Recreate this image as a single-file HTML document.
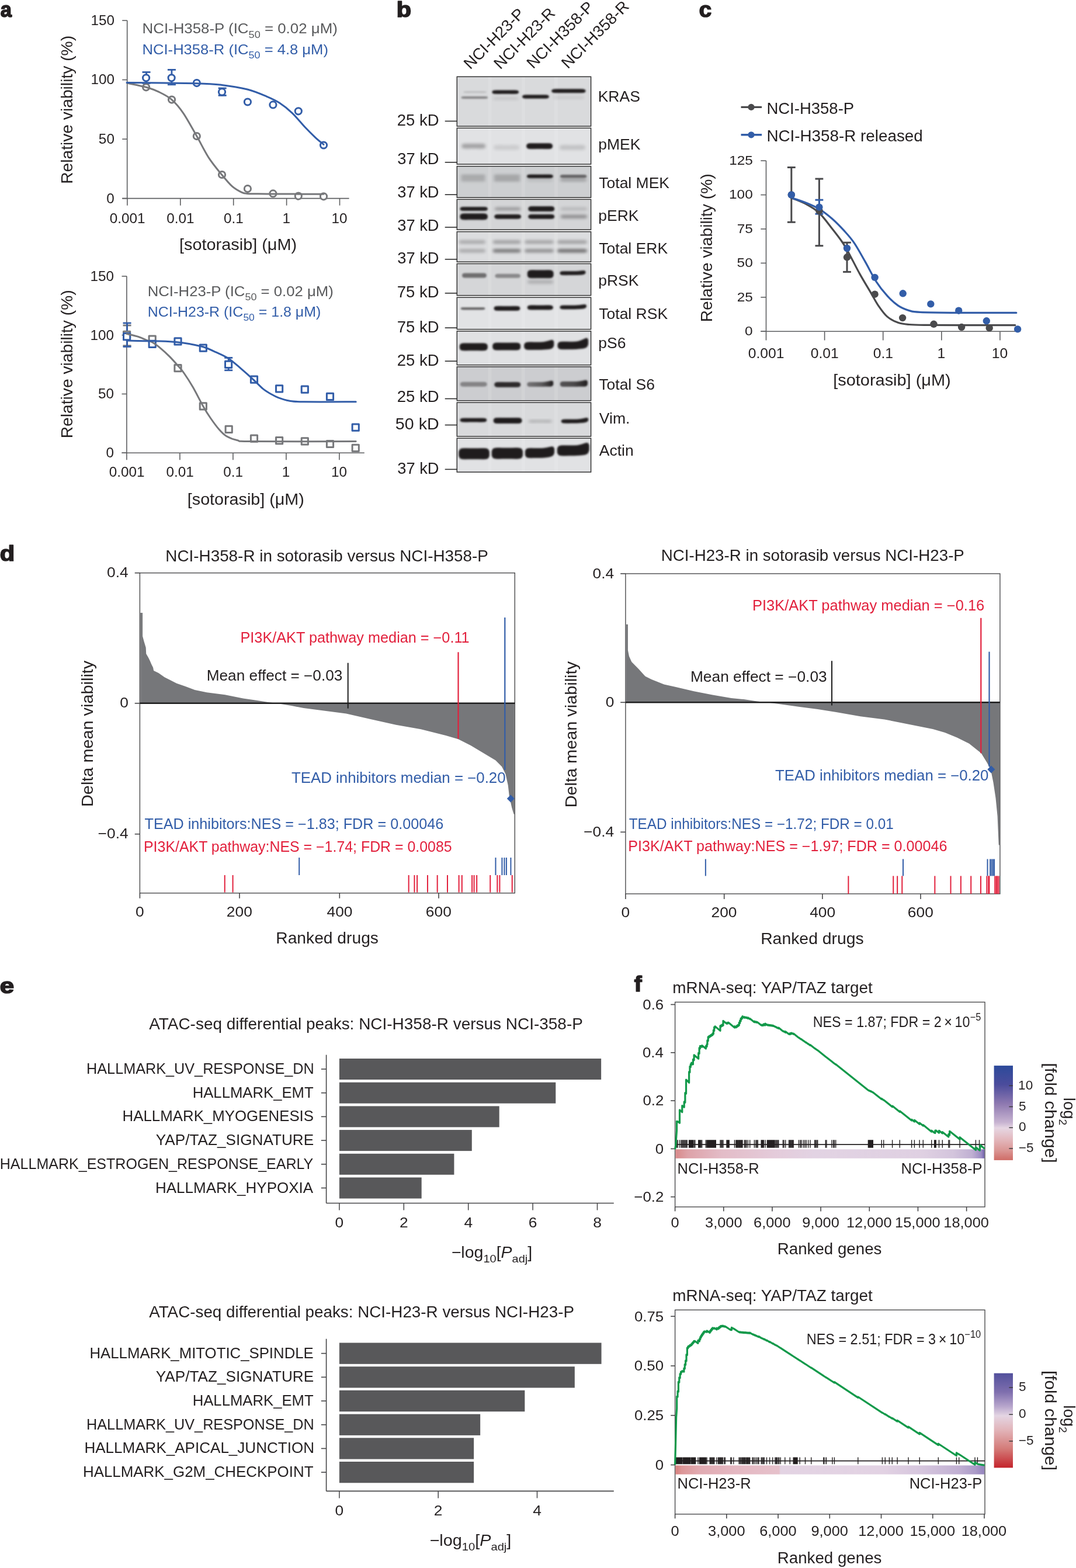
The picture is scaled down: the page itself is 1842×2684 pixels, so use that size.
<!DOCTYPE html>
<html><head><meta charset="utf-8"><title>Figure</title>
<style>html,body{margin:0;padding:0;background:#fff;}svg{display:block;}
text{font-family:'Liberation Sans',Arial,sans-serif;}</style></head>
<body><svg width="1842" height="2684" viewBox="0 0 1842 2684">
<rect x="0" y="0" width="1842" height="2684" fill="#ffffff"/>
<text transform="translate(1.60 29.20) scale(0.9309 1)" font-size="37" fill="#231f20" stroke="#231f20" stroke-width="1.7" stroke-linejoin="round"><tspan x="-0.93" font-weight="bold">a</tspan></text>
<text transform="translate(681.30 29.20) scale(1.1185 1)" font-size="37" fill="#231f20" stroke="#231f20" stroke-width="1.7" stroke-linejoin="round"><tspan x="-2.40" font-weight="bold">b</tspan></text>
<text transform="translate(1198.20 29.20) scale(1.0374 1)" font-size="37" fill="#231f20" stroke="#231f20" stroke-width="1.7" stroke-linejoin="round"><tspan x="-1.29" font-weight="bold">c</tspan></text>
<text transform="translate(1.30 959.80) scale(1.1239 1)" font-size="37" fill="#231f20" stroke="#231f20" stroke-width="1.7" stroke-linejoin="round"><tspan x="-1.48" font-weight="bold">d</tspan></text>
<text transform="translate(1.30 1699.80) scale(1.1859 1)" font-size="37" fill="#231f20" stroke="#231f20" stroke-width="1.7" stroke-linejoin="round"><tspan x="-1.29" font-weight="bold">e</tspan></text>
<text transform="translate(1086.30 1697.40) scale(1.0473 1)" font-size="37" fill="#231f20" stroke="#231f20" stroke-width="1.7" stroke-linejoin="round"><tspan x="-0.55" font-weight="bold">f</tspan></text>
<line x1="217.70" y1="35.10" x2="217.70" y2="339.60" stroke="#5d5e60" stroke-width="1.6"/>
<line x1="209.20" y1="339.60" x2="597.60" y2="339.60" stroke="#5d5e60" stroke-width="1.6"/>
<line x1="209.20" y1="35.06" x2="217.70" y2="35.06" stroke="#5d5e60" stroke-width="1.6"/>
<line x1="209.20" y1="136.57" x2="217.70" y2="136.57" stroke="#5d5e60" stroke-width="1.6"/>
<line x1="209.20" y1="238.09" x2="217.70" y2="238.09" stroke="#5d5e60" stroke-width="1.6"/>
<line x1="209.20" y1="339.60" x2="217.70" y2="339.60" stroke="#5d5e60" stroke-width="1.6"/>
<line x1="217.90" y1="339.60" x2="217.90" y2="351.70" stroke="#5d5e60" stroke-width="1.6"/>
<text transform="translate(188.49 382.30) scale(1.0300 1)" font-size="23.6" fill="#231f20"><tspan x="-0.83">0.001</tspan></text>
<line x1="308.80" y1="339.60" x2="308.80" y2="351.70" stroke="#5d5e60" stroke-width="1.6"/>
<text transform="translate(286.13 382.30) scale(1.0300 1)" font-size="23.6" fill="#231f20"><tspan x="-0.83">0.01</tspan></text>
<line x1="399.70" y1="339.60" x2="399.70" y2="351.70" stroke="#5d5e60" stroke-width="1.6"/>
<text transform="translate(383.78 382.30) scale(1.0300 1)" font-size="23.6" fill="#231f20"><tspan x="-0.83">0.1</tspan></text>
<line x1="490.60" y1="339.60" x2="490.60" y2="351.70" stroke="#5d5e60" stroke-width="1.6"/>
<text transform="translate(485.31 382.30) scale(1.0300 1)" font-size="23.6" fill="#231f20"><tspan x="-1.77">1</tspan></text>
<line x1="581.50" y1="339.60" x2="581.50" y2="351.70" stroke="#5d5e60" stroke-width="1.6"/>
<text transform="translate(569.35 382.30) scale(1.0300 1)" font-size="23.6" fill="#231f20"><tspan x="-1.77">10</tspan></text>
<text transform="translate(157.20 42.96) scale(1.0300 1)" font-size="23.6" fill="#231f20"><tspan x="-1.77">150</tspan></text>
<text transform="translate(157.20 144.47) scale(1.0300 1)" font-size="23.6" fill="#231f20"><tspan x="-1.77">100</tspan></text>
<text transform="translate(169.84 245.99) scale(1.0300 1)" font-size="23.6" fill="#231f20"><tspan x="-0.94">50</tspan></text>
<text transform="translate(183.21 347.50) scale(1.0300 1)" font-size="23.6" fill="#231f20"><tspan x="-0.83">0</tspan></text>
<text transform="translate(309.00 428.00) scale(1.0510 1)" font-size="27.5" fill="#231f20"><tspan x="-1.93">[sotorasib] (μM)</tspan></text>
<text transform="rotate(-90 124.00 312.60) translate(124.00 312.60) scale(0.9965 1)" font-size="28.3" fill="#231f20"><tspan x="-2.26">Relative viability (%)</tspan></text>
<line x1="250.54" y1="123.50" x2="250.54" y2="142.50" stroke="#325da8" stroke-width="2.8"/>
<line x1="243.54" y1="123.50" x2="257.54" y2="123.50" stroke="#325da8" stroke-width="2.8"/>
<line x1="243.54" y1="142.50" x2="257.54" y2="142.50" stroke="#325da8" stroke-width="2.8"/>
<line x1="293.91" y1="119.40" x2="293.91" y2="144.80" stroke="#325da8" stroke-width="2.8"/>
<line x1="286.91" y1="119.40" x2="300.91" y2="119.40" stroke="#325da8" stroke-width="2.8"/>
<line x1="286.91" y1="144.80" x2="300.91" y2="144.80" stroke="#325da8" stroke-width="2.8"/>
<line x1="380.66" y1="151.00" x2="380.66" y2="163.40" stroke="#325da8" stroke-width="2.8"/>
<line x1="373.66" y1="151.00" x2="387.66" y2="151.00" stroke="#325da8" stroke-width="2.8"/>
<line x1="373.66" y1="163.40" x2="387.66" y2="163.40" stroke="#325da8" stroke-width="2.8"/>
<circle cx="250.10" cy="149.30" r="5.6" fill="#fff" stroke="#77787b" stroke-width="3.0"/>
<circle cx="294.00" cy="170.60" r="5.6" fill="#fff" stroke="#77787b" stroke-width="3.0"/>
<circle cx="336.80" cy="233.10" r="5.6" fill="#fff" stroke="#77787b" stroke-width="3.0"/>
<circle cx="380.00" cy="299.00" r="5.6" fill="#fff" stroke="#77787b" stroke-width="3.0"/>
<circle cx="423.90" cy="323.10" r="5.6" fill="#fff" stroke="#77787b" stroke-width="3.0"/>
<circle cx="467.40" cy="331.40" r="5.6" fill="#fff" stroke="#77787b" stroke-width="3.0"/>
<circle cx="510.80" cy="335.60" r="5.6" fill="#fff" stroke="#77787b" stroke-width="3.0"/>
<circle cx="554.00" cy="336.30" r="5.6" fill="#fff" stroke="#77787b" stroke-width="3.0"/>
<circle cx="250.10" cy="133.30" r="5.6" fill="#fff" stroke="#325da8" stroke-width="3.0"/>
<circle cx="293.60" cy="133.30" r="5.6" fill="#fff" stroke="#325da8" stroke-width="3.0"/>
<circle cx="336.80" cy="142.10" r="5.6" fill="#fff" stroke="#325da8" stroke-width="3.0"/>
<circle cx="380.00" cy="157.40" r="5.6" fill="#fff" stroke="#325da8" stroke-width="3.0"/>
<circle cx="423.90" cy="174.50" r="5.6" fill="#fff" stroke="#325da8" stroke-width="3.0"/>
<circle cx="467.40" cy="179.40" r="5.6" fill="#fff" stroke="#325da8" stroke-width="3.0"/>
<circle cx="510.80" cy="190.30" r="5.6" fill="#fff" stroke="#325da8" stroke-width="3.0"/>
<circle cx="554.00" cy="248.50" r="5.6" fill="#fff" stroke="#325da8" stroke-width="3.0"/>
<path d="M217.20,142.10 C222.68,143.30 240.95,146.75 250.10,149.30 C259.25,151.85 264.78,153.85 272.10,157.40 C279.42,160.95 287.07,164.57 294.00,170.60 C300.93,176.63 306.57,183.18 313.70,193.60 C320.83,204.02 329.48,220.30 336.80,233.10 C344.12,245.90 350.47,259.42 357.60,270.40 C364.73,281.38 373.02,290.95 379.60,299.00 C386.18,307.05 391.62,313.77 397.10,318.70 C402.58,323.63 408.10,326.48 412.50,328.60 C416.90,330.72 416.18,330.85 423.50,331.40 C430.82,331.95 434.65,331.75 456.40,331.90 C478.15,332.05 537.73,332.23 554.00,332.30" stroke="#77787b" stroke-width="3.0" fill="none" stroke-linecap="round"/>
<path d="M217.20,141.40 C236.95,141.62 308.63,142.03 335.70,142.70 C362.77,143.37 364.97,143.68 379.60,145.40 C394.23,147.12 410.70,149.72 423.50,153.00 C436.30,156.28 447.27,161.25 456.40,165.10 C465.53,168.95 470.98,171.35 478.30,176.10 C485.62,180.85 492.98,186.65 500.30,193.60 C507.62,200.55 515.62,210.85 522.20,217.80 C528.78,224.75 534.50,230.37 539.80,235.30 C545.10,240.23 551.63,245.38 554.00,247.40" stroke="#325da8" stroke-width="3.0" fill="none" stroke-linecap="round"/>
<text transform="translate(245.60 57.20) scale(1.0473 1)" font-size="24.7" fill="#58595b"><tspan x="-1.98">NCI-H358-P (IC</tspan><tspan x="171.88" dy="7.41" font-size="17.29">50</tspan><tspan x="191.12" dy="-7.41"> = 0.02 μM)</tspan></text>
<text transform="translate(245.60 92.50) scale(1.0364 1)" font-size="24.7" fill="#325da8"><tspan x="-1.98">NCI-H358-R (IC</tspan><tspan x="173.69" dy="7.41" font-size="17.29">50</tspan><tspan x="192.92" dy="-7.41"> = 4.8 μM)</tspan></text>
<line x1="216.90" y1="472.80" x2="216.90" y2="775.20" stroke="#5d5e60" stroke-width="1.6"/>
<line x1="208.50" y1="775.20" x2="623.80" y2="775.20" stroke="#5d5e60" stroke-width="1.6"/>
<line x1="208.50" y1="472.80" x2="216.90" y2="472.80" stroke="#5d5e60" stroke-width="1.6"/>
<line x1="208.50" y1="573.60" x2="216.90" y2="573.60" stroke="#5d5e60" stroke-width="1.6"/>
<line x1="208.50" y1="674.40" x2="216.90" y2="674.40" stroke="#5d5e60" stroke-width="1.6"/>
<line x1="208.50" y1="775.20" x2="216.90" y2="775.20" stroke="#5d5e60" stroke-width="1.6"/>
<line x1="216.90" y1="775.20" x2="216.90" y2="787.30" stroke="#5d5e60" stroke-width="1.6"/>
<text transform="translate(187.49 816.20) scale(1.0300 1)" font-size="23.6" fill="#231f20"><tspan x="-0.83">0.001</tspan></text>
<line x1="307.90" y1="775.20" x2="307.90" y2="787.30" stroke="#5d5e60" stroke-width="1.6"/>
<text transform="translate(285.23 816.20) scale(1.0300 1)" font-size="23.6" fill="#231f20"><tspan x="-0.83">0.01</tspan></text>
<line x1="398.90" y1="775.20" x2="398.90" y2="787.30" stroke="#5d5e60" stroke-width="1.6"/>
<text transform="translate(382.98 816.20) scale(1.0300 1)" font-size="23.6" fill="#231f20"><tspan x="-0.83">0.1</tspan></text>
<line x1="489.90" y1="775.20" x2="489.90" y2="787.30" stroke="#5d5e60" stroke-width="1.6"/>
<text transform="translate(484.61 816.20) scale(1.0300 1)" font-size="23.6" fill="#231f20"><tspan x="-1.77">1</tspan></text>
<line x1="580.90" y1="775.20" x2="580.90" y2="787.30" stroke="#5d5e60" stroke-width="1.6"/>
<text transform="translate(568.75 816.20) scale(1.0300 1)" font-size="23.6" fill="#231f20"><tspan x="-1.77">10</tspan></text>
<text transform="translate(156.40 480.70) scale(1.0300 1)" font-size="23.6" fill="#231f20"><tspan x="-1.77">150</tspan></text>
<text transform="translate(156.40 581.50) scale(1.0300 1)" font-size="23.6" fill="#231f20"><tspan x="-1.77">100</tspan></text>
<text transform="translate(169.04 682.30) scale(1.0300 1)" font-size="23.6" fill="#231f20"><tspan x="-0.94">50</tspan></text>
<text transform="translate(182.41 783.10) scale(1.0300 1)" font-size="23.6" fill="#231f20"><tspan x="-0.83">0</tspan></text>
<text transform="translate(322.80 864.00) scale(1.0447 1)" font-size="27.5" fill="#231f20"><tspan x="-1.93">[sotorasib] (μM)</tspan></text>
<text transform="rotate(-90 124.00 748.00) translate(124.00 748.00) scale(0.9965 1)" font-size="28.3" fill="#231f20"><tspan x="-2.26">Relative viability (%)</tspan></text>
<line x1="217.53" y1="557.00" x2="217.53" y2="591.70" stroke="#77787b" stroke-width="2.8"/>
<line x1="210.53" y1="557.00" x2="224.53" y2="557.00" stroke="#77787b" stroke-width="2.8"/>
<line x1="210.53" y1="591.70" x2="224.53" y2="591.70" stroke="#77787b" stroke-width="2.8"/>
<line x1="217.53" y1="553.00" x2="217.53" y2="593.40" stroke="#325da8" stroke-width="2.8"/>
<line x1="210.53" y1="553.00" x2="224.53" y2="553.00" stroke="#325da8" stroke-width="2.8"/>
<line x1="210.53" y1="593.40" x2="224.53" y2="593.40" stroke="#325da8" stroke-width="2.8"/>
<line x1="391.20" y1="612.40" x2="391.20" y2="633.80" stroke="#325da8" stroke-width="2.8"/>
<line x1="384.20" y1="612.40" x2="398.20" y2="612.40" stroke="#325da8" stroke-width="2.8"/>
<line x1="384.20" y1="633.80" x2="398.20" y2="633.80" stroke="#325da8" stroke-width="2.8"/>
<rect x="211.50" y="567.30" width="11.2" height="11.2" fill="#fff" stroke="#77787b" stroke-width="3.0" stroke-linejoin="round"/>
<rect x="255.10" y="575.10" width="11.2" height="11.2" fill="#fff" stroke="#77787b" stroke-width="3.0" stroke-linejoin="round"/>
<rect x="298.90" y="624.60" width="11.2" height="11.2" fill="#fff" stroke="#77787b" stroke-width="3.0" stroke-linejoin="round"/>
<rect x="342.20" y="689.80" width="11.2" height="11.2" fill="#fff" stroke="#77787b" stroke-width="3.0" stroke-linejoin="round"/>
<rect x="386.10" y="729.30" width="11.2" height="11.2" fill="#fff" stroke="#77787b" stroke-width="3.0" stroke-linejoin="round"/>
<rect x="429.40" y="745.00" width="11.2" height="11.2" fill="#fff" stroke="#77787b" stroke-width="3.0" stroke-linejoin="round"/>
<rect x="472.50" y="748.50" width="11.2" height="11.2" fill="#fff" stroke="#77787b" stroke-width="3.0" stroke-linejoin="round"/>
<rect x="516.20" y="749.80" width="11.2" height="11.2" fill="#fff" stroke="#77787b" stroke-width="3.0" stroke-linejoin="round"/>
<rect x="559.40" y="754.40" width="11.2" height="11.2" fill="#fff" stroke="#77787b" stroke-width="3.0" stroke-linejoin="round"/>
<rect x="603.10" y="761.30" width="11.2" height="11.2" fill="#fff" stroke="#77787b" stroke-width="3.0" stroke-linejoin="round"/>
<rect x="211.50" y="570.60" width="11.2" height="11.2" fill="#fff" stroke="#325da8" stroke-width="3.0" stroke-linejoin="round"/>
<rect x="255.10" y="583.20" width="11.2" height="11.2" fill="#fff" stroke="#325da8" stroke-width="3.0" stroke-linejoin="round"/>
<rect x="298.90" y="578.80" width="11.2" height="11.2" fill="#fff" stroke="#325da8" stroke-width="3.0" stroke-linejoin="round"/>
<rect x="342.20" y="590.10" width="11.2" height="11.2" fill="#fff" stroke="#325da8" stroke-width="3.0" stroke-linejoin="round"/>
<rect x="385.50" y="618.30" width="11.2" height="11.2" fill="#fff" stroke="#325da8" stroke-width="3.0" stroke-linejoin="round"/>
<rect x="429.40" y="644.00" width="11.2" height="11.2" fill="#fff" stroke="#325da8" stroke-width="3.0" stroke-linejoin="round"/>
<rect x="472.50" y="659.80" width="11.2" height="11.2" fill="#fff" stroke="#325da8" stroke-width="3.0" stroke-linejoin="round"/>
<rect x="516.20" y="661.10" width="11.2" height="11.2" fill="#fff" stroke="#325da8" stroke-width="3.0" stroke-linejoin="round"/>
<rect x="559.40" y="673.20" width="11.2" height="11.2" fill="#fff" stroke="#325da8" stroke-width="3.0" stroke-linejoin="round"/>
<rect x="603.10" y="726.10" width="11.2" height="11.2" fill="#fff" stroke="#325da8" stroke-width="3.0" stroke-linejoin="round"/>
<path d="M217.10,571.60 C220.53,572.45 232.22,574.98 237.70,576.70 C243.18,578.42 246.07,580.30 250.00,581.90 C253.93,583.50 257.12,583.90 261.30,586.30 C265.48,588.70 270.30,592.33 275.10,596.30 C279.90,600.27 285.30,605.28 290.10,610.10 C294.90,614.92 299.72,620.38 303.90,625.20 C308.08,630.02 310.80,632.73 315.20,639.00 C319.60,645.27 324.87,653.40 330.30,662.80 C335.73,672.20 342.80,686.62 347.80,695.40 C352.80,704.18 355.70,708.82 360.30,715.50 C364.90,722.18 370.80,730.28 375.40,735.50 C380.00,740.72 382.68,743.77 387.90,746.80 C393.12,749.83 399.38,752.23 406.70,753.70 C414.02,755.17 398.05,755.28 431.80,755.60 C465.55,755.92 579.63,755.60 609.20,755.60" stroke="#77787b" stroke-width="3.0" fill="none" stroke-linecap="round"/>
<path d="M217.10,583.10 C222.58,583.22 240.33,583.65 250.00,583.80 C259.67,583.95 266.12,583.68 275.10,584.00 C284.08,584.32 295.55,584.90 303.90,585.70 C312.25,586.50 317.88,587.45 325.20,588.80 C332.52,590.15 340.48,591.50 347.80,593.80 C355.12,596.10 361.78,599.25 369.10,602.60 C376.42,605.95 384.38,609.10 391.70,613.90 C399.02,618.70 405.90,625.33 413.00,631.40 C420.10,637.47 428.13,644.65 434.30,650.30 C440.47,655.95 445.05,661.27 450.00,665.30 C454.95,669.33 459.53,671.92 464.00,674.50 C468.47,677.08 471.67,678.88 476.80,680.80 C481.93,682.72 487.52,684.83 494.80,686.00 C502.08,687.17 501.43,687.50 520.50,687.80 C539.57,688.10 594.42,687.80 609.20,687.80" stroke="#325da8" stroke-width="3.0" fill="none" stroke-linecap="round"/>
<text transform="translate(254.80 507.00) scale(1.0410 1)" font-size="24.7" fill="#58595b"><tspan x="-1.98">NCI-H23-P (IC</tspan><tspan x="158.15" dy="7.41" font-size="17.29">50</tspan><tspan x="177.38" dy="-7.41"> = 0.02 μM)</tspan></text>
<text transform="translate(254.80 541.70) scale(1.0104 1)" font-size="24.7" fill="#325da8"><tspan x="-1.98">NCI-H23-R (IC</tspan><tspan x="159.95" dy="7.41" font-size="17.29">50</tspan><tspan x="179.19" dy="-7.41"> = 1.8 μM)</tspan></text>
<defs><filter id="bl" x="-20%" y="-100%" width="140%" height="300%" color-interpolation-filters="sRGB"><feGaussianBlur stdDeviation="1.6"/></filter><filter id="bl2" x="-20%" y="-100%" width="140%" height="300%" color-interpolation-filters="sRGB"><feGaussianBlur stdDeviation="2.4"/></filter></defs>
<rect x="782.30" y="131.30" width="229.30" height="84.80" fill="#d9dadc"/>
<rect x="835.50" y="131.30" width="6.00" height="84.80" fill="#ffffff" opacity="0.12"/>
<rect x="892.80" y="131.30" width="6.00" height="84.80" fill="#ffffff" opacity="0.12"/>
<rect x="949.00" y="131.30" width="6.00" height="84.80" fill="#ffffff" opacity="0.12"/>
<rect x="782.30" y="219.20" width="229.30" height="61.90" fill="#e1e2e4"/>
<rect x="835.50" y="219.20" width="6.00" height="61.90" fill="#ffffff" opacity="0.12"/>
<rect x="892.80" y="219.20" width="6.00" height="61.90" fill="#ffffff" opacity="0.12"/>
<rect x="949.00" y="219.20" width="6.00" height="61.90" fill="#ffffff" opacity="0.12"/>
<rect x="782.30" y="284.60" width="229.30" height="53.60" fill="#cdcfd1"/>
<rect x="835.50" y="284.60" width="6.00" height="53.60" fill="#ffffff" opacity="0.12"/>
<rect x="892.80" y="284.60" width="6.00" height="53.60" fill="#ffffff" opacity="0.12"/>
<rect x="949.00" y="284.60" width="6.00" height="53.60" fill="#ffffff" opacity="0.12"/>
<rect x="782.30" y="341.30" width="229.30" height="51.90" fill="#d4d5d7"/>
<rect x="835.50" y="341.30" width="6.00" height="51.90" fill="#ffffff" opacity="0.12"/>
<rect x="892.80" y="341.30" width="6.00" height="51.90" fill="#ffffff" opacity="0.12"/>
<rect x="949.00" y="341.30" width="6.00" height="51.90" fill="#ffffff" opacity="0.12"/>
<rect x="782.30" y="396.60" width="229.30" height="51.70" fill="#dcdddf"/>
<rect x="835.50" y="396.60" width="6.00" height="51.70" fill="#ffffff" opacity="0.12"/>
<rect x="892.80" y="396.60" width="6.00" height="51.70" fill="#ffffff" opacity="0.12"/>
<rect x="949.00" y="396.60" width="6.00" height="51.70" fill="#ffffff" opacity="0.12"/>
<rect x="782.30" y="451.40" width="229.30" height="54.30" fill="#d5d6d8"/>
<rect x="835.50" y="451.40" width="6.00" height="54.30" fill="#ffffff" opacity="0.12"/>
<rect x="892.80" y="451.40" width="6.00" height="54.30" fill="#ffffff" opacity="0.12"/>
<rect x="949.00" y="451.40" width="6.00" height="54.30" fill="#ffffff" opacity="0.12"/>
<rect x="782.30" y="509.10" width="229.30" height="54.60" fill="#e2e3e5"/>
<rect x="835.50" y="509.10" width="6.00" height="54.60" fill="#ffffff" opacity="0.12"/>
<rect x="892.80" y="509.10" width="6.00" height="54.60" fill="#ffffff" opacity="0.12"/>
<rect x="949.00" y="509.10" width="6.00" height="54.60" fill="#ffffff" opacity="0.12"/>
<rect x="782.30" y="566.80" width="229.30" height="58.00" fill="#e0e1e3"/>
<rect x="835.50" y="566.80" width="6.00" height="58.00" fill="#ffffff" opacity="0.12"/>
<rect x="892.80" y="566.80" width="6.00" height="58.00" fill="#ffffff" opacity="0.12"/>
<rect x="949.00" y="566.80" width="6.00" height="58.00" fill="#ffffff" opacity="0.12"/>
<rect x="782.30" y="627.80" width="229.30" height="58.00" fill="#cccdd0"/>
<rect x="835.50" y="627.80" width="6.00" height="58.00" fill="#ffffff" opacity="0.12"/>
<rect x="892.80" y="627.80" width="6.00" height="58.00" fill="#ffffff" opacity="0.12"/>
<rect x="949.00" y="627.80" width="6.00" height="58.00" fill="#ffffff" opacity="0.12"/>
<rect x="782.30" y="689.00" width="229.30" height="58.00" fill="#d9dadc"/>
<rect x="835.50" y="689.00" width="6.00" height="58.00" fill="#ffffff" opacity="0.12"/>
<rect x="892.80" y="689.00" width="6.00" height="58.00" fill="#ffffff" opacity="0.12"/>
<rect x="949.00" y="689.00" width="6.00" height="58.00" fill="#ffffff" opacity="0.12"/>
<rect x="782.30" y="750.10" width="229.30" height="58.00" fill="#e1e2e4"/>
<rect x="835.50" y="750.10" width="6.00" height="58.00" fill="#ffffff" opacity="0.12"/>
<rect x="892.80" y="750.10" width="6.00" height="58.00" fill="#ffffff" opacity="0.12"/>
<rect x="949.00" y="750.10" width="6.00" height="58.00" fill="#ffffff" opacity="0.12"/>
<defs><linearGradient id="ts6a" x1="0" x2="1" y1="0" y2="0"><stop offset="0" stop-color="#1f1c1d" stop-opacity="0.5"/><stop offset="0.55" stop-color="#1f1c1d" stop-opacity="0.65"/><stop offset="1" stop-color="#1f1c1d" stop-opacity="1"/></linearGradient><linearGradient id="ts6b" x1="0" x2="1" y1="0" y2="0"><stop offset="0" stop-color="#1f1c1d" stop-opacity="0.7"/><stop offset="0.5" stop-color="#1f1c1d" stop-opacity="0.75"/><stop offset="1" stop-color="#1f1c1d" stop-opacity="1"/></linearGradient></defs>
<path d="M793.50,156.96 L794.81,156.36 L796.11,156.20 L797.42,156.13 L798.73,156.09 L800.03,156.07 L801.34,156.07 L802.65,156.07 L803.95,156.08 L805.26,156.08 L806.57,156.09 L807.87,156.09 L809.18,156.10 L810.49,156.10 L811.79,156.10 L813.10,156.10 L814.41,156.10 L815.71,156.10 L817.02,156.10 L818.33,156.09 L819.63,156.09 L820.94,156.08 L822.25,156.08 L823.55,156.07 L824.86,156.07 L826.17,156.07 L827.47,156.09 L828.78,156.13 L830.09,156.20 L831.39,156.36 L832.70,156.96 L832.70,158.24 L831.39,158.84 L830.09,159.00 L828.78,159.07 L827.47,159.11 L826.17,159.13 L824.86,159.13 L823.55,159.13 L822.25,159.12 L820.94,159.12 L819.63,159.11 L818.33,159.11 L817.02,159.10 L815.71,159.10 L814.41,159.10 L813.10,159.10 L811.79,159.10 L810.49,159.10 L809.18,159.10 L807.87,159.11 L806.57,159.11 L805.26,159.12 L803.95,159.12 L802.65,159.13 L801.34,159.13 L800.03,159.13 L798.73,159.11 L797.42,159.07 L796.11,159.00 L794.81,158.84 L793.50,158.24 Z" fill="#1f1c1d" opacity="0.14" filter="url(#bl)" stroke="#1f1c1d" stroke-width="0" stroke-linejoin="round"/>
<path d="M789.60,166.15 L791.11,165.35 L792.63,165.14 L794.14,165.04 L795.65,164.99 L797.17,164.96 L798.68,164.96 L800.19,164.96 L801.71,164.97 L803.22,164.98 L804.73,164.99 L806.25,164.99 L807.76,165.00 L809.27,165.00 L810.79,165.00 L812.30,165.00 L813.81,165.00 L815.33,165.00 L816.84,165.00 L818.35,164.99 L819.87,164.99 L821.38,164.98 L822.89,164.97 L824.41,164.96 L825.92,164.96 L827.43,164.96 L828.95,164.99 L830.46,165.04 L831.97,165.14 L833.49,165.35 L835.00,166.15 L835.00,167.85 L833.49,168.65 L831.97,168.86 L830.46,168.96 L828.95,169.01 L827.43,169.04 L825.92,169.04 L824.41,169.04 L822.89,169.03 L821.38,169.02 L819.87,169.01 L818.35,169.01 L816.84,169.00 L815.33,169.00 L813.81,169.00 L812.30,169.00 L810.79,169.00 L809.27,169.00 L807.76,169.00 L806.25,169.01 L804.73,169.01 L803.22,169.02 L801.71,169.03 L800.19,169.04 L798.68,169.04 L797.17,169.04 L795.65,169.01 L794.14,168.96 L792.63,168.86 L791.11,168.65 L789.60,167.85 Z" fill="#1f1c1d" opacity="0.45" filter="url(#bl)" stroke="#1f1c1d" stroke-width="0" stroke-linejoin="round"/>
<path d="M842.90,156.43 L844.39,155.33 L845.88,155.04 L847.37,154.90 L848.86,154.83 L850.35,154.80 L851.84,154.79 L853.33,154.80 L854.82,154.81 L856.31,154.82 L857.80,154.83 L859.29,154.84 L860.78,154.85 L862.27,154.85 L863.76,154.85 L865.25,154.85 L866.74,154.85 L868.23,154.85 L869.72,154.85 L871.21,154.84 L872.70,154.83 L874.19,154.82 L875.68,154.81 L877.17,154.80 L878.66,154.79 L880.15,154.80 L881.64,154.83 L883.13,154.90 L884.62,155.04 L886.11,155.33 L887.60,156.43 L887.60,158.77 L886.11,159.87 L884.62,160.16 L883.13,160.30 L881.64,160.37 L880.15,160.40 L878.66,160.41 L877.17,160.40 L875.68,160.39 L874.19,160.38 L872.70,160.37 L871.21,160.36 L869.72,160.35 L868.23,160.35 L866.74,160.35 L865.25,160.35 L863.76,160.35 L862.27,160.35 L860.78,160.35 L859.29,160.36 L857.80,160.37 L856.31,160.38 L854.82,160.39 L853.33,160.40 L851.84,160.41 L850.35,160.40 L848.86,160.37 L847.37,160.30 L845.88,160.16 L844.39,159.87 L842.90,158.77 Z" fill="#1f1c1d" opacity="1.00" filter="url(#bl)" stroke="#1f1c1d" stroke-width="0.8" stroke-linejoin="round"/>
<path d="M844.00,167.75 L845.47,166.95 L846.93,166.74 L848.40,166.64 L849.87,166.59 L851.33,166.56 L852.80,166.56 L854.27,166.56 L855.73,166.57 L857.20,166.58 L858.67,166.59 L860.13,166.59 L861.60,166.60 L863.07,166.60 L864.53,166.60 L866.00,166.60 L867.47,166.60 L868.93,166.60 L870.40,166.60 L871.87,166.59 L873.33,166.59 L874.80,166.58 L876.27,166.57 L877.73,166.56 L879.20,166.56 L880.67,166.56 L882.13,166.59 L883.60,166.64 L885.07,166.74 L886.53,166.95 L888.00,167.75 L888.00,169.45 L886.53,170.25 L885.07,170.46 L883.60,170.56 L882.13,170.61 L880.67,170.64 L879.20,170.64 L877.73,170.64 L876.27,170.63 L874.80,170.62 L873.33,170.61 L871.87,170.61 L870.40,170.60 L868.93,170.60 L867.47,170.60 L866.00,170.60 L864.53,170.60 L863.07,170.60 L861.60,170.60 L860.13,170.61 L858.67,170.61 L857.20,170.62 L855.73,170.63 L854.27,170.64 L852.80,170.64 L851.33,170.64 L849.87,170.61 L848.40,170.56 L846.93,170.46 L845.47,170.25 L844.00,169.45 Z" fill="#1f1c1d" opacity="0.13" filter="url(#bl2)" stroke="#1f1c1d" stroke-width="0" stroke-linejoin="round"/>
<path d="M894.60,164.33 L896.09,163.23 L897.58,162.94 L899.07,162.80 L900.56,162.73 L902.05,162.70 L903.54,162.69 L905.03,162.70 L906.52,162.71 L908.01,162.72 L909.50,162.73 L910.99,162.74 L912.48,162.75 L913.97,162.75 L915.46,162.75 L916.95,162.75 L918.44,162.75 L919.93,162.75 L921.42,162.75 L922.91,162.74 L924.40,162.73 L925.89,162.72 L927.38,162.71 L928.87,162.70 L930.36,162.69 L931.85,162.70 L933.34,162.73 L934.83,162.80 L936.32,162.94 L937.81,163.23 L939.30,164.33 L939.30,166.67 L937.81,167.77 L936.32,168.06 L934.83,168.20 L933.34,168.27 L931.85,168.30 L930.36,168.31 L928.87,168.30 L927.38,168.29 L925.89,168.28 L924.40,168.27 L922.91,168.26 L921.42,168.25 L919.93,168.25 L918.44,168.25 L916.95,168.25 L915.46,168.25 L913.97,168.25 L912.48,168.25 L910.99,168.26 L909.50,168.27 L908.01,168.28 L906.52,168.29 L905.03,168.30 L903.54,168.31 L902.05,168.30 L900.56,168.27 L899.07,168.20 L897.58,168.06 L896.09,167.77 L894.60,166.67 Z" fill="#1f1c1d" opacity="1.00" filter="url(#bl)" stroke="#1f1c1d" stroke-width="0.8" stroke-linejoin="round"/>
<path d="M944.80,154.42 L946.71,153.22 L948.61,152.91 L950.52,152.75 L952.43,152.68 L954.33,152.65 L956.24,152.64 L958.15,152.64 L960.05,152.66 L961.96,152.67 L963.87,152.68 L965.77,152.69 L967.68,152.70 L969.59,152.70 L971.49,152.70 L973.40,152.70 L975.31,152.70 L977.21,152.70 L979.12,152.70 L981.03,152.69 L982.93,152.68 L984.84,152.67 L986.75,152.66 L988.65,152.64 L990.56,152.64 L992.47,152.65 L994.37,152.68 L996.28,152.75 L998.19,152.91 L1000.09,153.22 L1002.00,154.42 L1002.00,156.98 L1000.09,158.18 L998.19,158.49 L996.28,158.65 L994.37,158.72 L992.47,158.75 L990.56,158.76 L988.65,158.76 L986.75,158.74 L984.84,158.73 L982.93,158.72 L981.03,158.71 L979.12,158.70 L977.21,158.70 L975.31,158.70 L973.40,158.70 L971.49,158.70 L969.59,158.70 L967.68,158.70 L965.77,158.71 L963.87,158.72 L961.96,158.73 L960.05,158.74 L958.15,158.76 L956.24,158.76 L954.33,158.75 L952.43,158.72 L950.52,158.65 L948.61,158.49 L946.71,158.18 L944.80,156.98 Z" fill="#1f1c1d" opacity="1.00" filter="url(#bl)" stroke="#1f1c1d" stroke-width="0.8" stroke-linejoin="round"/>
<path d="M947.00,166.15 L948.77,165.35 L950.53,165.14 L952.30,165.04 L954.07,164.99 L955.83,164.96 L957.60,164.96 L959.37,164.96 L961.13,164.97 L962.90,164.98 L964.67,164.99 L966.43,164.99 L968.20,165.00 L969.97,165.00 L971.73,165.00 L973.50,165.00 L975.27,165.00 L977.03,165.00 L978.80,165.00 L980.57,164.99 L982.33,164.99 L984.10,164.98 L985.87,164.97 L987.63,164.96 L989.40,164.96 L991.17,164.96 L992.93,164.99 L994.70,165.04 L996.47,165.14 L998.23,165.35 L1000.00,166.15 L1000.00,167.85 L998.23,168.65 L996.47,168.86 L994.70,168.96 L992.93,169.01 L991.17,169.04 L989.40,169.04 L987.63,169.04 L985.87,169.03 L984.10,169.02 L982.33,169.01 L980.57,169.01 L978.80,169.00 L977.03,169.00 L975.27,169.00 L973.50,169.00 L971.73,169.00 L969.97,169.00 L968.20,169.00 L966.43,169.01 L964.67,169.01 L962.90,169.02 L961.13,169.03 L959.37,169.04 L957.60,169.04 L955.83,169.04 L954.07,169.01 L952.30,168.96 L950.53,168.86 L948.77,168.65 L947.00,167.85 Z" fill="#1f1c1d" opacity="0.11" filter="url(#bl2)" stroke="#1f1c1d" stroke-width="0" stroke-linejoin="round"/>
<path d="M790.40,248.39 L791.76,246.79 L793.11,246.37 L794.47,246.17 L795.83,246.07 L797.18,246.03 L798.54,246.02 L799.90,246.03 L801.25,246.04 L802.61,246.06 L803.97,246.07 L805.32,246.09 L806.68,246.09 L808.04,246.10 L809.39,246.10 L810.75,246.10 L812.11,246.10 L813.46,246.10 L814.82,246.09 L816.18,246.09 L817.53,246.07 L818.89,246.06 L820.25,246.04 L821.60,246.03 L822.96,246.02 L824.32,246.03 L825.67,246.07 L827.03,246.17 L828.39,246.37 L829.74,246.79 L831.10,248.39 L831.10,251.81 L829.74,253.41 L828.39,253.83 L827.03,254.03 L825.67,254.13 L824.32,254.17 L822.96,254.18 L821.60,254.17 L820.25,254.16 L818.89,254.14 L817.53,254.13 L816.18,254.11 L814.82,254.11 L813.46,254.10 L812.11,254.10 L810.75,254.10 L809.39,254.10 L808.04,254.10 L806.68,254.11 L805.32,254.11 L803.97,254.13 L802.61,254.14 L801.25,254.16 L799.90,254.17 L798.54,254.18 L797.18,254.17 L795.83,254.13 L794.47,254.03 L793.11,253.83 L791.76,253.41 L790.40,251.81 Z" fill="#1f1c1d" opacity="0.32" filter="url(#bl2)" stroke="#1f1c1d" stroke-width="0" stroke-linejoin="round"/>
<path d="M845.20,250.69 L846.66,249.09 L848.13,248.67 L849.59,248.47 L851.05,248.37 L852.52,248.33 L853.98,248.32 L855.44,248.33 L856.91,248.34 L858.37,248.36 L859.83,248.37 L861.30,248.39 L862.76,248.39 L864.22,248.40 L865.69,248.40 L867.15,248.40 L868.61,248.40 L870.08,248.40 L871.54,248.39 L873.00,248.39 L874.47,248.37 L875.93,248.36 L877.39,248.34 L878.86,248.33 L880.32,248.32 L881.78,248.33 L883.25,248.37 L884.71,248.47 L886.17,248.67 L887.64,249.09 L889.10,250.69 L889.10,254.11 L887.64,255.71 L886.17,256.13 L884.71,256.33 L883.25,256.43 L881.78,256.47 L880.32,256.48 L878.86,256.47 L877.39,256.46 L875.93,256.44 L874.47,256.43 L873.00,256.41 L871.54,256.41 L870.08,256.40 L868.61,256.40 L867.15,256.40 L865.69,256.40 L864.22,256.40 L862.76,256.41 L861.30,256.41 L859.83,256.43 L858.37,256.44 L856.91,256.46 L855.44,256.47 L853.98,256.48 L852.52,256.47 L851.05,256.43 L849.59,256.33 L848.13,256.13 L846.66,255.71 L845.20,254.11 Z" fill="#1f1c1d" opacity="0.11" filter="url(#bl2)" stroke="#1f1c1d" stroke-width="0" stroke-linejoin="round"/>
<path d="M901.70,248.18 L903.16,246.38 L904.62,245.91 L906.08,245.68 L907.54,245.57 L909.00,245.52 L910.46,245.51 L911.92,245.52 L913.38,245.53 L914.84,245.55 L916.30,245.57 L917.76,245.58 L919.22,245.59 L920.68,245.60 L922.14,245.60 L923.60,245.60 L925.06,245.60 L926.52,245.60 L927.98,245.59 L929.44,245.58 L930.90,245.57 L932.36,245.55 L933.82,245.53 L935.28,245.52 L936.74,245.51 L938.20,245.52 L939.66,245.57 L941.12,245.68 L942.58,245.91 L944.04,246.38 L945.50,248.18 L945.50,252.02 L944.04,253.82 L942.58,254.29 L941.12,254.52 L939.66,254.63 L938.20,254.68 L936.74,254.69 L935.28,254.68 L933.82,254.67 L932.36,254.65 L930.90,254.63 L929.44,254.62 L927.98,254.61 L926.52,254.60 L925.06,254.60 L923.60,254.60 L922.14,254.60 L920.68,254.60 L919.22,254.61 L917.76,254.62 L916.30,254.63 L914.84,254.65 L913.38,254.67 L911.92,254.68 L910.46,254.69 L909.00,254.68 L907.54,254.63 L906.08,254.52 L904.62,254.29 L903.16,253.82 L901.70,252.02 Z" fill="#1f1c1d" opacity="1.00" filter="url(#bl)" stroke="#1f1c1d" stroke-width="0.8" stroke-linejoin="round"/>
<path d="M958.00,250.69 L959.47,249.09 L960.93,248.67 L962.40,248.47 L963.87,248.37 L965.33,248.33 L966.80,248.32 L968.27,248.33 L969.73,248.34 L971.20,248.36 L972.67,248.37 L974.13,248.39 L975.60,248.39 L977.07,248.40 L978.53,248.40 L980.00,248.40 L981.47,248.40 L982.93,248.40 L984.40,248.39 L985.87,248.39 L987.33,248.37 L988.80,248.36 L990.27,248.34 L991.73,248.33 L993.20,248.32 L994.67,248.33 L996.13,248.37 L997.60,248.47 L999.07,248.67 L1000.53,249.09 L1002.00,250.69 L1002.00,254.11 L1000.53,255.71 L999.07,256.13 L997.60,256.33 L996.13,256.43 L994.67,256.47 L993.20,256.48 L991.73,256.47 L990.27,256.46 L988.80,256.44 L987.33,256.43 L985.87,256.41 L984.40,256.41 L982.93,256.40 L981.47,256.40 L980.00,256.40 L978.53,256.40 L977.07,256.40 L975.60,256.41 L974.13,256.41 L972.67,256.43 L971.20,256.44 L969.73,256.46 L968.27,256.47 L966.80,256.48 L965.33,256.47 L963.87,256.43 L962.40,256.33 L960.93,256.13 L959.47,255.71 L958.00,254.11 Z" fill="#1f1c1d" opacity="0.16" filter="url(#bl2)" stroke="#1f1c1d" stroke-width="0" stroke-linejoin="round"/>
<path d="M788.80,300.63 L790.21,299.53 L791.62,299.24 L793.03,299.10 L794.44,299.03 L795.85,299.00 L797.26,298.99 L798.67,299.00 L800.08,299.01 L801.49,299.02 L802.90,299.03 L804.31,299.04 L805.72,299.05 L807.13,299.05 L808.54,299.05 L809.95,299.05 L811.36,299.05 L812.77,299.05 L814.18,299.05 L815.59,299.04 L817.00,299.03 L818.41,299.02 L819.82,299.01 L821.23,299.00 L822.64,298.99 L824.05,299.00 L825.46,299.03 L826.87,299.10 L828.28,299.24 L829.69,299.53 L831.10,300.63 L831.10,302.97 L829.69,304.07 L828.28,304.36 L826.87,304.50 L825.46,304.57 L824.05,304.60 L822.64,304.61 L821.23,304.60 L819.82,304.59 L818.41,304.58 L817.00,304.57 L815.59,304.56 L814.18,304.55 L812.77,304.55 L811.36,304.55 L809.95,304.55 L808.54,304.55 L807.13,304.55 L805.72,304.55 L804.31,304.56 L802.90,304.57 L801.49,304.58 L800.08,304.59 L798.67,304.60 L797.26,304.61 L795.85,304.60 L794.44,304.57 L793.03,304.50 L791.62,304.36 L790.21,304.07 L788.80,302.97 Z" fill="#1f1c1d" opacity="0.24" filter="url(#bl2)" stroke="#1f1c1d" stroke-width="0" stroke-linejoin="round"/>
<path d="M788.80,306.63 L790.21,305.53 L791.62,305.24 L793.03,305.10 L794.44,305.03 L795.85,305.00 L797.26,304.99 L798.67,305.00 L800.08,305.01 L801.49,305.02 L802.90,305.03 L804.31,305.04 L805.72,305.05 L807.13,305.05 L808.54,305.05 L809.95,305.05 L811.36,305.05 L812.77,305.05 L814.18,305.05 L815.59,305.04 L817.00,305.03 L818.41,305.02 L819.82,305.01 L821.23,305.00 L822.64,304.99 L824.05,305.00 L825.46,305.03 L826.87,305.10 L828.28,305.24 L829.69,305.53 L831.10,306.63 L831.10,308.97 L829.69,310.07 L828.28,310.36 L826.87,310.50 L825.46,310.57 L824.05,310.60 L822.64,310.61 L821.23,310.60 L819.82,310.59 L818.41,310.58 L817.00,310.57 L815.59,310.56 L814.18,310.55 L812.77,310.55 L811.36,310.55 L809.95,310.55 L808.54,310.55 L807.13,310.55 L805.72,310.55 L804.31,310.56 L802.90,310.57 L801.49,310.58 L800.08,310.59 L798.67,310.60 L797.26,310.61 L795.85,310.60 L794.44,310.57 L793.03,310.50 L791.62,310.36 L790.21,310.07 L788.80,308.97 Z" fill="#1f1c1d" opacity="0.22" filter="url(#bl2)" stroke="#1f1c1d" stroke-width="0" stroke-linejoin="round"/>
<path d="M845.20,300.63 L846.72,299.53 L848.23,299.24 L849.75,299.10 L851.27,299.03 L852.78,299.00 L854.30,298.99 L855.82,299.00 L857.33,299.01 L858.85,299.02 L860.37,299.03 L861.88,299.04 L863.40,299.05 L864.92,299.05 L866.43,299.05 L867.95,299.05 L869.47,299.05 L870.98,299.05 L872.50,299.05 L874.02,299.04 L875.53,299.03 L877.05,299.02 L878.57,299.01 L880.08,299.00 L881.60,298.99 L883.12,299.00 L884.63,299.03 L886.15,299.10 L887.67,299.24 L889.18,299.53 L890.70,300.63 L890.70,302.97 L889.18,304.07 L887.67,304.36 L886.15,304.50 L884.63,304.57 L883.12,304.60 L881.60,304.61 L880.08,304.60 L878.57,304.59 L877.05,304.58 L875.53,304.57 L874.02,304.56 L872.50,304.55 L870.98,304.55 L869.47,304.55 L867.95,304.55 L866.43,304.55 L864.92,304.55 L863.40,304.55 L861.88,304.56 L860.37,304.57 L858.85,304.58 L857.33,304.59 L855.82,304.60 L854.30,304.61 L852.78,304.60 L851.27,304.57 L849.75,304.50 L848.23,304.36 L846.72,304.07 L845.20,302.97 Z" fill="#1f1c1d" opacity="0.26" filter="url(#bl2)" stroke="#1f1c1d" stroke-width="0" stroke-linejoin="round"/>
<path d="M845.20,306.63 L846.72,305.53 L848.23,305.24 L849.75,305.10 L851.27,305.03 L852.78,305.00 L854.30,304.99 L855.82,305.00 L857.33,305.01 L858.85,305.02 L860.37,305.03 L861.88,305.04 L863.40,305.05 L864.92,305.05 L866.43,305.05 L867.95,305.05 L869.47,305.05 L870.98,305.05 L872.50,305.05 L874.02,305.04 L875.53,305.03 L877.05,305.02 L878.57,305.01 L880.08,305.00 L881.60,304.99 L883.12,305.00 L884.63,305.03 L886.15,305.10 L887.67,305.24 L889.18,305.53 L890.70,306.63 L890.70,308.97 L889.18,310.07 L887.67,310.36 L886.15,310.50 L884.63,310.57 L883.12,310.60 L881.60,310.61 L880.08,310.60 L878.57,310.59 L877.05,310.58 L875.53,310.57 L874.02,310.56 L872.50,310.55 L870.98,310.55 L869.47,310.55 L867.95,310.55 L866.43,310.55 L864.92,310.55 L863.40,310.55 L861.88,310.56 L860.37,310.57 L858.85,310.58 L857.33,310.59 L855.82,310.60 L854.30,310.61 L852.78,310.60 L851.27,310.57 L849.75,310.50 L848.23,310.36 L846.72,310.07 L845.20,308.97 Z" fill="#1f1c1d" opacity="0.26" filter="url(#bl2)" stroke="#1f1c1d" stroke-width="0" stroke-linejoin="round"/>
<path d="M902.40,300.63 L903.86,299.53 L905.33,299.24 L906.79,299.10 L908.25,299.03 L909.72,299.00 L911.18,298.99 L912.64,299.00 L914.11,299.01 L915.57,299.02 L917.03,299.03 L918.50,299.04 L919.96,299.05 L921.42,299.05 L922.89,299.05 L924.35,299.05 L925.81,299.05 L927.28,299.05 L928.74,299.05 L930.20,299.04 L931.67,299.03 L933.13,299.02 L934.59,299.01 L936.06,299.00 L937.52,298.99 L938.98,299.00 L940.45,299.03 L941.91,299.10 L943.37,299.24 L944.84,299.53 L946.30,300.63 L946.30,302.97 L944.84,304.07 L943.37,304.36 L941.91,304.50 L940.45,304.57 L938.98,304.60 L937.52,304.61 L936.06,304.60 L934.59,304.59 L933.13,304.58 L931.67,304.57 L930.20,304.56 L928.74,304.55 L927.28,304.55 L925.81,304.55 L924.35,304.55 L922.89,304.55 L921.42,304.55 L919.96,304.55 L918.50,304.56 L917.03,304.57 L915.57,304.58 L914.11,304.59 L912.64,304.60 L911.18,304.61 L909.72,304.60 L908.25,304.57 L906.79,304.50 L905.33,304.36 L903.86,304.07 L902.40,302.97 Z" fill="#1f1c1d" opacity="1.00" filter="url(#bl)" stroke="#1f1c1d" stroke-width="0.8" stroke-linejoin="round"/>
<path d="M902.40,306.63 L903.86,305.53 L905.33,305.24 L906.79,305.10 L908.25,305.03 L909.72,305.00 L911.18,304.99 L912.64,305.00 L914.11,305.01 L915.57,305.02 L917.03,305.03 L918.50,305.04 L919.96,305.05 L921.42,305.05 L922.89,305.05 L924.35,305.05 L925.81,305.05 L927.28,305.05 L928.74,305.05 L930.20,305.04 L931.67,305.03 L933.13,305.02 L934.59,305.01 L936.06,305.00 L937.52,304.99 L938.98,305.00 L940.45,305.03 L941.91,305.10 L943.37,305.24 L944.84,305.53 L946.30,306.63 L946.30,308.97 L944.84,310.07 L943.37,310.36 L941.91,310.50 L940.45,310.57 L938.98,310.60 L937.52,310.61 L936.06,310.60 L934.59,310.59 L933.13,310.58 L931.67,310.57 L930.20,310.56 L928.74,310.55 L927.28,310.55 L925.81,310.55 L924.35,310.55 L922.89,310.55 L921.42,310.55 L919.96,310.55 L918.50,310.56 L917.03,310.57 L915.57,310.58 L914.11,310.59 L912.64,310.60 L911.18,310.61 L909.72,310.60 L908.25,310.57 L906.79,310.50 L905.33,310.36 L903.86,310.07 L902.40,308.97 Z" fill="#1f1c1d" opacity="0.11" filter="url(#bl2)" stroke="#1f1c1d" stroke-width="0" stroke-linejoin="round"/>
<path d="M958.90,300.63 L960.41,299.53 L961.93,299.24 L963.44,299.10 L964.95,299.03 L966.47,299.00 L967.98,298.99 L969.49,299.00 L971.01,299.01 L972.52,299.02 L974.03,299.03 L975.55,299.04 L977.06,299.05 L978.57,299.05 L980.09,299.05 L981.60,299.05 L983.11,299.05 L984.63,299.05 L986.14,299.05 L987.65,299.04 L989.17,299.03 L990.68,299.02 L992.19,299.01 L993.71,299.00 L995.22,298.99 L996.73,299.00 L998.25,299.03 L999.76,299.10 L1001.27,299.24 L1002.79,299.53 L1004.30,300.63 L1004.30,302.97 L1002.79,304.07 L1001.27,304.36 L999.76,304.50 L998.25,304.57 L996.73,304.60 L995.22,304.61 L993.71,304.60 L992.19,304.59 L990.68,304.58 L989.17,304.57 L987.65,304.56 L986.14,304.55 L984.63,304.55 L983.11,304.55 L981.60,304.55 L980.09,304.55 L978.57,304.55 L977.06,304.55 L975.55,304.56 L974.03,304.57 L972.52,304.58 L971.01,304.59 L969.49,304.60 L967.98,304.61 L966.47,304.60 L964.95,304.57 L963.44,304.50 L961.93,304.36 L960.41,304.07 L958.90,302.97 Z" fill="#1f1c1d" opacity="0.59" filter="url(#bl)" stroke="#1f1c1d" stroke-width="0" stroke-linejoin="round"/>
<path d="M958.90,306.63 L960.41,305.53 L961.93,305.24 L963.44,305.10 L964.95,305.03 L966.47,305.00 L967.98,304.99 L969.49,305.00 L971.01,305.01 L972.52,305.02 L974.03,305.03 L975.55,305.04 L977.06,305.05 L978.57,305.05 L980.09,305.05 L981.60,305.05 L983.11,305.05 L984.63,305.05 L986.14,305.05 L987.65,305.04 L989.17,305.03 L990.68,305.02 L992.19,305.01 L993.71,305.00 L995.22,304.99 L996.73,305.00 L998.25,305.03 L999.76,305.10 L1001.27,305.24 L1002.79,305.53 L1004.30,306.63 L1004.30,308.97 L1002.79,310.07 L1001.27,310.36 L999.76,310.50 L998.25,310.57 L996.73,310.60 L995.22,310.61 L993.71,310.60 L992.19,310.59 L990.68,310.58 L989.17,310.57 L987.65,310.56 L986.14,310.55 L984.63,310.55 L983.11,310.55 L981.60,310.55 L980.09,310.55 L978.57,310.55 L977.06,310.55 L975.55,310.56 L974.03,310.57 L972.52,310.58 L971.01,310.59 L969.49,310.60 L967.98,310.61 L966.47,310.60 L964.95,310.57 L963.44,310.50 L961.93,310.36 L960.41,310.07 L958.90,308.97 Z" fill="#1f1c1d" opacity="0.27" filter="url(#bl2)" stroke="#1f1c1d" stroke-width="0" stroke-linejoin="round"/>
<path d="M788.00,356.22 L789.54,355.02 L791.09,354.71 L792.63,354.55 L794.17,354.48 L795.72,354.45 L797.26,354.44 L798.80,354.44 L800.35,354.46 L801.89,354.47 L803.43,354.48 L804.98,354.49 L806.52,354.50 L808.06,354.50 L809.61,354.50 L811.15,354.50 L812.69,354.50 L814.24,354.50 L815.78,354.50 L817.32,354.49 L818.87,354.48 L820.41,354.47 L821.95,354.46 L823.50,354.44 L825.04,354.44 L826.58,354.45 L828.13,354.48 L829.67,354.55 L831.21,354.71 L832.76,355.02 L834.30,356.22 L834.30,358.78 L832.76,359.98 L831.21,360.29 L829.67,360.45 L828.13,360.52 L826.58,360.55 L825.04,360.56 L823.50,360.56 L821.95,360.54 L820.41,360.53 L818.87,360.52 L817.32,360.51 L815.78,360.50 L814.24,360.50 L812.69,360.50 L811.15,360.50 L809.61,360.50 L808.06,360.50 L806.52,360.50 L804.98,360.51 L803.43,360.52 L801.89,360.53 L800.35,360.54 L798.80,360.56 L797.26,360.56 L795.72,360.55 L794.17,360.52 L792.63,360.45 L791.09,360.29 L789.54,359.98 L788.00,358.78 Z" fill="#1f1c1d" opacity="0.99" filter="url(#bl)" stroke="#1f1c1d" stroke-width="0.8" stroke-linejoin="round"/>
<path d="M788.00,368.67 L789.54,366.67 L791.09,366.14 L792.63,365.89 L794.17,365.76 L795.72,365.71 L797.26,365.70 L798.80,365.71 L800.35,365.73 L801.89,365.75 L803.43,365.77 L804.98,365.78 L806.52,365.79 L808.06,365.80 L809.61,365.80 L811.15,365.80 L812.69,365.80 L814.24,365.80 L815.78,365.79 L817.32,365.78 L818.87,365.77 L820.41,365.75 L821.95,365.73 L823.50,365.71 L825.04,365.70 L826.58,365.71 L828.13,365.76 L829.67,365.89 L831.21,366.14 L832.76,366.67 L834.30,368.67 L834.30,372.94 L832.76,374.93 L831.21,375.46 L829.67,375.71 L828.13,375.84 L826.58,375.89 L825.04,375.90 L823.50,375.89 L821.95,375.87 L820.41,375.85 L818.87,375.83 L817.32,375.82 L815.78,375.81 L814.24,375.80 L812.69,375.80 L811.15,375.80 L809.61,375.80 L808.06,375.80 L806.52,375.81 L804.98,375.82 L803.43,375.83 L801.89,375.85 L800.35,375.87 L798.80,375.89 L797.26,375.90 L795.72,375.89 L794.17,375.84 L792.63,375.71 L791.09,375.46 L789.54,374.93 L788.00,372.94 Z" fill="#1f1c1d" opacity="1.00" filter="url(#bl)" stroke="#1f1c1d" stroke-width="0.8" stroke-linejoin="round"/>
<path d="M846.80,356.43 L848.29,355.43 L849.78,355.17 L851.27,355.04 L852.76,354.98 L854.25,354.96 L855.74,354.95 L857.23,354.95 L858.72,354.96 L860.21,354.97 L861.70,354.98 L863.19,354.99 L864.68,355.00 L866.17,355.00 L867.66,355.00 L869.15,355.00 L870.64,355.00 L872.13,355.00 L873.62,355.00 L875.11,354.99 L876.60,354.98 L878.09,354.97 L879.58,354.96 L881.07,354.95 L882.56,354.95 L884.05,354.96 L885.54,354.98 L887.03,355.04 L888.52,355.17 L890.01,355.43 L891.50,356.43 L891.50,358.57 L890.01,359.57 L888.52,359.83 L887.03,359.96 L885.54,360.02 L884.05,360.04 L882.56,360.05 L881.07,360.05 L879.58,360.04 L878.09,360.03 L876.60,360.02 L875.11,360.01 L873.62,360.00 L872.13,360.00 L870.64,360.00 L869.15,360.00 L867.66,360.00 L866.17,360.00 L864.68,360.00 L863.19,360.01 L861.70,360.02 L860.21,360.03 L858.72,360.04 L857.23,360.05 L855.74,360.05 L854.25,360.04 L852.76,360.02 L851.27,359.96 L849.78,359.83 L848.29,359.57 L846.80,358.57 Z" fill="#1f1c1d" opacity="0.35" filter="url(#bl2)" stroke="#1f1c1d" stroke-width="0" stroke-linejoin="round"/>
<path d="M846.80,369.31 L848.29,367.91 L849.78,367.54 L851.27,367.36 L852.76,367.27 L854.25,367.24 L855.74,367.23 L857.23,367.23 L858.72,367.25 L860.21,367.26 L861.70,367.28 L863.19,367.29 L864.68,367.29 L866.17,367.30 L867.66,367.30 L869.15,367.30 L870.64,367.30 L872.13,367.30 L873.62,367.29 L875.11,367.29 L876.60,367.28 L878.09,367.26 L879.58,367.25 L881.07,367.23 L882.56,367.23 L884.05,367.24 L885.54,367.27 L887.03,367.36 L888.52,367.54 L890.01,367.91 L891.50,369.31 L891.50,372.29 L890.01,373.69 L888.52,374.06 L887.03,374.24 L885.54,374.33 L884.05,374.36 L882.56,374.37 L881.07,374.37 L879.58,374.35 L878.09,374.34 L876.60,374.32 L875.11,374.31 L873.62,374.31 L872.13,374.30 L870.64,374.30 L869.15,374.30 L867.66,374.30 L866.17,374.30 L864.68,374.31 L863.19,374.31 L861.70,374.32 L860.21,374.34 L858.72,374.35 L857.23,374.37 L855.74,374.37 L854.25,374.36 L852.76,374.33 L851.27,374.24 L849.78,374.06 L848.29,373.69 L846.80,372.29 Z" fill="#1f1c1d" opacity="0.99" filter="url(#bl)" stroke="#1f1c1d" stroke-width="0.8" stroke-linejoin="round"/>
<path d="M904.80,355.79 L906.26,354.19 L907.73,353.77 L909.19,353.57 L910.65,353.47 L912.12,353.43 L913.58,353.42 L915.04,353.43 L916.51,353.44 L917.97,353.46 L919.43,353.47 L920.90,353.49 L922.36,353.49 L923.82,353.50 L925.29,353.50 L926.75,353.50 L928.21,353.50 L929.68,353.50 L931.14,353.49 L932.60,353.49 L934.07,353.47 L935.53,353.46 L936.99,353.44 L938.46,353.43 L939.92,353.42 L941.38,353.43 L942.85,353.47 L944.31,353.57 L945.77,353.77 L947.24,354.19 L948.70,355.79 L948.70,359.21 L947.24,360.81 L945.77,361.23 L944.31,361.43 L942.85,361.53 L941.38,361.57 L939.92,361.58 L938.46,361.57 L936.99,361.56 L935.53,361.54 L934.07,361.53 L932.60,361.51 L931.14,361.51 L929.68,361.50 L928.21,361.50 L926.75,361.50 L925.29,361.50 L923.82,361.50 L922.36,361.51 L920.90,361.51 L919.43,361.53 L917.97,361.54 L916.51,361.56 L915.04,361.57 L913.58,361.58 L912.12,361.57 L910.65,361.53 L909.19,361.43 L907.73,361.23 L906.26,360.81 L904.80,359.21 Z" fill="#1f1c1d" opacity="1.00" filter="url(#bl)" stroke="#1f1c1d" stroke-width="0.8" stroke-linejoin="round"/>
<path d="M904.80,369.31 L906.26,367.91 L907.73,367.54 L909.19,367.36 L910.65,367.27 L912.12,367.24 L913.58,367.23 L915.04,367.23 L916.51,367.25 L917.97,367.26 L919.43,367.28 L920.90,367.29 L922.36,367.29 L923.82,367.30 L925.29,367.30 L926.75,367.30 L928.21,367.30 L929.68,367.30 L931.14,367.29 L932.60,367.29 L934.07,367.28 L935.53,367.26 L936.99,367.25 L938.46,367.23 L939.92,367.23 L941.38,367.24 L942.85,367.27 L944.31,367.36 L945.77,367.54 L947.24,367.91 L948.70,369.31 L948.70,372.29 L947.24,373.69 L945.77,374.06 L944.31,374.24 L942.85,374.33 L941.38,374.36 L939.92,374.37 L938.46,374.37 L936.99,374.35 L935.53,374.34 L934.07,374.32 L932.60,374.31 L931.14,374.31 L929.68,374.30 L928.21,374.30 L926.75,374.30 L925.29,374.30 L923.82,374.30 L922.36,374.31 L920.90,374.31 L919.43,374.32 L917.97,374.34 L916.51,374.35 L915.04,374.37 L913.58,374.37 L912.12,374.36 L910.65,374.33 L909.19,374.24 L907.73,374.06 L906.26,373.69 L904.80,372.29 Z" fill="#1f1c1d" opacity="1.00" filter="url(#bl)" stroke="#1f1c1d" stroke-width="0.8" stroke-linejoin="round"/>
<path d="M959.70,356.43 L961.21,355.43 L962.73,355.17 L964.24,355.04 L965.75,354.98 L967.27,354.96 L968.78,354.95 L970.29,354.95 L971.81,354.96 L973.32,354.97 L974.83,354.98 L976.35,354.99 L977.86,355.00 L979.37,355.00 L980.89,355.00 L982.40,355.00 L983.91,355.00 L985.43,355.00 L986.94,355.00 L988.45,354.99 L989.97,354.98 L991.48,354.97 L992.99,354.96 L994.51,354.95 L996.02,354.95 L997.53,354.96 L999.05,354.98 L1000.56,355.04 L1002.07,355.17 L1003.59,355.43 L1005.10,356.43 L1005.10,358.57 L1003.59,359.57 L1002.07,359.83 L1000.56,359.96 L999.05,360.02 L997.53,360.04 L996.02,360.05 L994.51,360.05 L992.99,360.04 L991.48,360.03 L989.97,360.02 L988.45,360.01 L986.94,360.00 L985.43,360.00 L983.91,360.00 L982.40,360.00 L980.89,360.00 L979.37,360.00 L977.86,360.00 L976.35,360.01 L974.83,360.02 L973.32,360.03 L971.81,360.04 L970.29,360.05 L968.78,360.05 L967.27,360.04 L965.75,360.02 L964.24,359.96 L962.73,359.83 L961.21,359.57 L959.70,358.57 Z" fill="#1f1c1d" opacity="0.17" filter="url(#bl2)" stroke="#1f1c1d" stroke-width="0" stroke-linejoin="round"/>
<path d="M959.70,369.52 L961.21,368.32 L962.73,368.01 L964.24,367.85 L965.75,367.78 L967.27,367.75 L968.78,367.74 L970.29,367.74 L971.81,367.76 L973.32,367.77 L974.83,367.78 L976.35,367.79 L977.86,367.80 L979.37,367.80 L980.89,367.80 L982.40,367.80 L983.91,367.80 L985.43,367.80 L986.94,367.80 L988.45,367.79 L989.97,367.78 L991.48,367.77 L992.99,367.76 L994.51,367.74 L996.02,367.74 L997.53,367.75 L999.05,367.78 L1000.56,367.85 L1002.07,368.01 L1003.59,368.32 L1005.10,369.52 L1005.10,372.08 L1003.59,373.28 L1002.07,373.59 L1000.56,373.75 L999.05,373.82 L997.53,373.85 L996.02,373.86 L994.51,373.86 L992.99,373.84 L991.48,373.83 L989.97,373.82 L988.45,373.81 L986.94,373.80 L985.43,373.80 L983.91,373.80 L982.40,373.80 L980.89,373.80 L979.37,373.80 L977.86,373.80 L976.35,373.81 L974.83,373.82 L973.32,373.83 L971.81,373.84 L970.29,373.86 L968.78,373.86 L967.27,373.85 L965.75,373.82 L964.24,373.75 L962.73,373.59 L961.21,373.28 L959.70,372.08 Z" fill="#1f1c1d" opacity="0.39" filter="url(#bl2)" stroke="#1f1c1d" stroke-width="0" stroke-linejoin="round"/>
<path d="M785.70,413.02 L787.21,411.82 L788.73,411.51 L790.24,411.35 L791.75,411.28 L793.27,411.25 L794.78,411.24 L796.29,411.24 L797.81,411.26 L799.32,411.27 L800.83,411.28 L802.35,411.29 L803.86,411.30 L805.37,411.30 L806.89,411.30 L808.40,411.30 L809.91,411.30 L811.43,411.30 L812.94,411.30 L814.45,411.29 L815.97,411.28 L817.48,411.27 L818.99,411.26 L820.51,411.24 L822.02,411.24 L823.53,411.25 L825.05,411.28 L826.56,411.35 L828.07,411.51 L829.59,411.82 L831.10,413.02 L831.10,415.58 L829.59,416.78 L828.07,417.09 L826.56,417.25 L825.05,417.32 L823.53,417.35 L822.02,417.36 L820.51,417.36 L818.99,417.34 L817.48,417.33 L815.97,417.32 L814.45,417.31 L812.94,417.30 L811.43,417.30 L809.91,417.30 L808.40,417.30 L806.89,417.30 L805.37,417.30 L803.86,417.30 L802.35,417.31 L800.83,417.32 L799.32,417.33 L797.81,417.34 L796.29,417.36 L794.78,417.36 L793.27,417.35 L791.75,417.32 L790.24,417.25 L788.73,417.09 L787.21,416.78 L785.70,415.58 Z" fill="#1f1c1d" opacity="0.27" filter="url(#bl2)" stroke="#1f1c1d" stroke-width="0" stroke-linejoin="round"/>
<path d="M785.70,427.92 L787.21,426.72 L788.73,426.41 L790.24,426.25 L791.75,426.18 L793.27,426.15 L794.78,426.14 L796.29,426.14 L797.81,426.16 L799.32,426.17 L800.83,426.18 L802.35,426.19 L803.86,426.20 L805.37,426.20 L806.89,426.20 L808.40,426.20 L809.91,426.20 L811.43,426.20 L812.94,426.20 L814.45,426.19 L815.97,426.18 L817.48,426.17 L818.99,426.16 L820.51,426.14 L822.02,426.14 L823.53,426.15 L825.05,426.18 L826.56,426.25 L828.07,426.41 L829.59,426.72 L831.10,427.92 L831.10,430.48 L829.59,431.68 L828.07,431.99 L826.56,432.15 L825.05,432.22 L823.53,432.25 L822.02,432.26 L820.51,432.26 L818.99,432.24 L817.48,432.23 L815.97,432.22 L814.45,432.21 L812.94,432.20 L811.43,432.20 L809.91,432.20 L808.40,432.20 L806.89,432.20 L805.37,432.20 L803.86,432.20 L802.35,432.21 L800.83,432.22 L799.32,432.23 L797.81,432.24 L796.29,432.26 L794.78,432.26 L793.27,432.25 L791.75,432.22 L790.24,432.15 L788.73,431.99 L787.21,431.68 L785.70,430.48 Z" fill="#1f1c1d" opacity="0.27" filter="url(#bl2)" stroke="#1f1c1d" stroke-width="0" stroke-linejoin="round"/>
<path d="M843.70,413.02 L845.29,411.82 L846.89,411.51 L848.48,411.35 L850.07,411.28 L851.67,411.25 L853.26,411.24 L854.85,411.24 L856.45,411.26 L858.04,411.27 L859.63,411.28 L861.23,411.29 L862.82,411.30 L864.41,411.30 L866.01,411.30 L867.60,411.30 L869.19,411.30 L870.79,411.30 L872.38,411.30 L873.97,411.29 L875.57,411.28 L877.16,411.27 L878.75,411.26 L880.35,411.24 L881.94,411.24 L883.53,411.25 L885.13,411.28 L886.72,411.35 L888.31,411.51 L889.91,411.82 L891.50,413.02 L891.50,415.58 L889.91,416.78 L888.31,417.09 L886.72,417.25 L885.13,417.32 L883.53,417.35 L881.94,417.36 L880.35,417.36 L878.75,417.34 L877.16,417.33 L875.57,417.32 L873.97,417.31 L872.38,417.30 L870.79,417.30 L869.19,417.30 L867.60,417.30 L866.01,417.30 L864.41,417.30 L862.82,417.30 L861.23,417.31 L859.63,417.32 L858.04,417.33 L856.45,417.34 L854.85,417.36 L853.26,417.36 L851.67,417.35 L850.07,417.32 L848.48,417.25 L846.89,417.09 L845.29,416.78 L843.70,415.58 Z" fill="#1f1c1d" opacity="0.32" filter="url(#bl2)" stroke="#1f1c1d" stroke-width="0" stroke-linejoin="round"/>
<path d="M843.70,427.92 L845.29,426.72 L846.89,426.41 L848.48,426.25 L850.07,426.18 L851.67,426.15 L853.26,426.14 L854.85,426.14 L856.45,426.16 L858.04,426.17 L859.63,426.18 L861.23,426.19 L862.82,426.20 L864.41,426.20 L866.01,426.20 L867.60,426.20 L869.19,426.20 L870.79,426.20 L872.38,426.20 L873.97,426.19 L875.57,426.18 L877.16,426.17 L878.75,426.16 L880.35,426.14 L881.94,426.14 L883.53,426.15 L885.13,426.18 L886.72,426.25 L888.31,426.41 L889.91,426.72 L891.50,427.92 L891.50,430.48 L889.91,431.68 L888.31,431.99 L886.72,432.15 L885.13,432.22 L883.53,432.25 L881.94,432.26 L880.35,432.26 L878.75,432.24 L877.16,432.23 L875.57,432.22 L873.97,432.21 L872.38,432.20 L870.79,432.20 L869.19,432.20 L867.60,432.20 L866.01,432.20 L864.41,432.20 L862.82,432.20 L861.23,432.21 L859.63,432.22 L858.04,432.23 L856.45,432.24 L854.85,432.26 L853.26,432.26 L851.67,432.25 L850.07,432.22 L848.48,432.15 L846.89,431.99 L845.29,431.68 L843.70,430.48 Z" fill="#1f1c1d" opacity="0.54" filter="url(#bl2)" stroke="#1f1c1d" stroke-width="0" stroke-linejoin="round"/>
<path d="M898.00,413.02 L899.66,411.82 L901.33,411.51 L902.99,411.35 L904.65,411.28 L906.32,411.25 L907.98,411.24 L909.64,411.24 L911.31,411.26 L912.97,411.27 L914.63,411.28 L916.30,411.29 L917.96,411.30 L919.62,411.30 L921.29,411.30 L922.95,411.30 L924.61,411.30 L926.28,411.30 L927.94,411.30 L929.60,411.29 L931.27,411.28 L932.93,411.27 L934.59,411.26 L936.26,411.24 L937.92,411.24 L939.58,411.25 L941.25,411.28 L942.91,411.35 L944.57,411.51 L946.24,411.82 L947.90,413.02 L947.90,415.58 L946.24,416.78 L944.57,417.09 L942.91,417.25 L941.25,417.32 L939.58,417.35 L937.92,417.36 L936.26,417.36 L934.59,417.34 L932.93,417.33 L931.27,417.32 L929.60,417.31 L927.94,417.30 L926.28,417.30 L924.61,417.30 L922.95,417.30 L921.29,417.30 L919.62,417.30 L917.96,417.30 L916.30,417.31 L914.63,417.32 L912.97,417.33 L911.31,417.34 L909.64,417.36 L907.98,417.36 L906.32,417.35 L904.65,417.32 L902.99,417.25 L901.33,417.09 L899.66,416.78 L898.00,415.58 Z" fill="#1f1c1d" opacity="0.30" filter="url(#bl2)" stroke="#1f1c1d" stroke-width="0" stroke-linejoin="round"/>
<path d="M898.00,427.92 L899.66,426.72 L901.33,426.41 L902.99,426.25 L904.65,426.18 L906.32,426.15 L907.98,426.14 L909.64,426.14 L911.31,426.16 L912.97,426.17 L914.63,426.18 L916.30,426.19 L917.96,426.20 L919.62,426.20 L921.29,426.20 L922.95,426.20 L924.61,426.20 L926.28,426.20 L927.94,426.20 L929.60,426.19 L931.27,426.18 L932.93,426.17 L934.59,426.16 L936.26,426.14 L937.92,426.14 L939.58,426.15 L941.25,426.18 L942.91,426.25 L944.57,426.41 L946.24,426.72 L947.90,427.92 L947.90,430.48 L946.24,431.68 L944.57,431.99 L942.91,432.15 L941.25,432.22 L939.58,432.25 L937.92,432.26 L936.26,432.26 L934.59,432.24 L932.93,432.23 L931.27,432.22 L929.60,432.21 L927.94,432.20 L926.28,432.20 L924.61,432.20 L922.95,432.20 L921.29,432.20 L919.62,432.20 L917.96,432.20 L916.30,432.21 L914.63,432.22 L912.97,432.23 L911.31,432.24 L909.64,432.26 L907.98,432.26 L906.32,432.25 L904.65,432.22 L902.99,432.15 L901.33,431.99 L899.66,431.68 L898.00,430.48 Z" fill="#1f1c1d" opacity="0.41" filter="url(#bl2)" stroke="#1f1c1d" stroke-width="0" stroke-linejoin="round"/>
<path d="M954.00,413.02 L955.70,411.82 L957.40,411.51 L959.10,411.35 L960.80,411.28 L962.50,411.25 L964.20,411.24 L965.90,411.24 L967.60,411.26 L969.30,411.27 L971.00,411.28 L972.70,411.29 L974.40,411.30 L976.10,411.30 L977.80,411.30 L979.50,411.30 L981.20,411.30 L982.90,411.30 L984.60,411.30 L986.30,411.29 L988.00,411.28 L989.70,411.27 L991.40,411.26 L993.10,411.24 L994.80,411.24 L996.50,411.25 L998.20,411.28 L999.90,411.35 L1001.60,411.51 L1003.30,411.82 L1005.00,413.02 L1005.00,415.58 L1003.30,416.78 L1001.60,417.09 L999.90,417.25 L998.20,417.32 L996.50,417.35 L994.80,417.36 L993.10,417.36 L991.40,417.34 L989.70,417.33 L988.00,417.32 L986.30,417.31 L984.60,417.30 L982.90,417.30 L981.20,417.30 L979.50,417.30 L977.80,417.30 L976.10,417.30 L974.40,417.30 L972.70,417.31 L971.00,417.32 L969.30,417.33 L967.60,417.34 L965.90,417.36 L964.20,417.36 L962.50,417.35 L960.80,417.32 L959.10,417.25 L957.40,417.09 L955.70,416.78 L954.00,415.58 Z" fill="#1f1c1d" opacity="0.32" filter="url(#bl2)" stroke="#1f1c1d" stroke-width="0" stroke-linejoin="round"/>
<path d="M954.00,427.92 L955.70,426.72 L957.40,426.41 L959.10,426.25 L960.80,426.18 L962.50,426.15 L964.20,426.14 L965.90,426.14 L967.60,426.16 L969.30,426.17 L971.00,426.18 L972.70,426.19 L974.40,426.20 L976.10,426.20 L977.80,426.20 L979.50,426.20 L981.20,426.20 L982.90,426.20 L984.60,426.20 L986.30,426.19 L988.00,426.18 L989.70,426.17 L991.40,426.16 L993.10,426.14 L994.80,426.14 L996.50,426.15 L998.20,426.18 L999.90,426.25 L1001.60,426.41 L1003.30,426.72 L1005.00,427.92 L1005.00,430.48 L1003.30,431.68 L1001.60,431.99 L999.90,432.15 L998.20,432.22 L996.50,432.25 L994.80,432.26 L993.10,432.26 L991.40,432.24 L989.70,432.23 L988.00,432.22 L986.30,432.21 L984.60,432.20 L982.90,432.20 L981.20,432.20 L979.50,432.20 L977.80,432.20 L976.10,432.20 L974.40,432.20 L972.70,432.21 L971.00,432.22 L969.30,432.23 L967.60,432.24 L965.90,432.26 L964.20,432.26 L962.50,432.25 L960.80,432.22 L959.10,432.15 L957.40,431.99 L955.70,431.68 L954.00,430.48 Z" fill="#1f1c1d" opacity="0.59" filter="url(#bl2)" stroke="#1f1c1d" stroke-width="0" stroke-linejoin="round"/>
<path d="M791.20,469.79 L792.58,468.19 L793.97,467.77 L795.35,467.57 L796.73,467.47 L798.12,467.43 L799.50,467.42 L800.88,467.43 L802.27,467.44 L803.65,467.46 L805.03,467.47 L806.42,467.49 L807.80,467.49 L809.18,467.50 L810.57,467.50 L811.95,467.50 L813.33,467.50 L814.72,467.50 L816.10,467.49 L817.48,467.49 L818.87,467.47 L820.25,467.46 L821.63,467.44 L823.02,467.43 L824.40,467.42 L825.78,467.43 L827.17,467.47 L828.55,467.57 L829.93,467.77 L831.32,468.19 L832.70,469.79 L832.70,473.21 L831.32,474.81 L829.93,475.23 L828.55,475.43 L827.17,475.53 L825.78,475.57 L824.40,475.58 L823.02,475.57 L821.63,475.56 L820.25,475.54 L818.87,475.53 L817.48,475.51 L816.10,475.51 L814.72,475.50 L813.33,475.50 L811.95,475.50 L810.57,475.50 L809.18,475.50 L807.80,475.51 L806.42,475.51 L805.03,475.53 L803.65,475.54 L802.27,475.56 L800.88,475.57 L799.50,475.58 L798.12,475.57 L796.73,475.53 L795.35,475.43 L793.97,475.23 L792.58,474.81 L791.20,473.21 Z" fill="#1f1c1d" opacity="0.56" filter="url(#bl)" stroke="#1f1c1d" stroke-width="0" stroke-linejoin="round"/>
<path d="M847.60,470.81 L849.04,469.41 L850.47,469.04 L851.91,468.86 L853.35,468.77 L854.78,468.74 L856.22,468.73 L857.66,468.73 L859.09,468.75 L860.53,468.76 L861.97,468.78 L863.40,468.79 L864.84,468.79 L866.28,468.80 L867.71,468.80 L869.15,468.80 L870.59,468.80 L872.02,468.80 L873.46,468.79 L874.90,468.79 L876.33,468.78 L877.77,468.76 L879.21,468.75 L880.64,468.73 L882.08,468.73 L883.52,468.74 L884.95,468.77 L886.39,468.86 L887.83,469.04 L889.26,469.41 L890.70,470.81 L890.70,473.79 L889.26,475.19 L887.83,475.56 L886.39,475.74 L884.95,475.83 L883.52,475.86 L882.08,475.87 L880.64,475.87 L879.21,475.85 L877.77,475.84 L876.33,475.82 L874.90,475.81 L873.46,475.81 L872.02,475.80 L870.59,475.80 L869.15,475.80 L867.71,475.80 L866.28,475.80 L864.84,475.81 L863.40,475.81 L861.97,475.82 L860.53,475.84 L859.09,475.85 L857.66,475.87 L856.22,475.87 L854.78,475.86 L853.35,475.83 L851.91,475.74 L850.47,475.56 L849.04,475.19 L847.60,473.79 Z" fill="#1f1c1d" opacity="0.41" filter="url(#bl)" stroke="#1f1c1d" stroke-width="0" stroke-linejoin="round"/>
<path d="M903.20,466.42 L904.66,463.83 L906.13,463.15 L907.59,462.81 L909.05,462.65 L910.52,462.58 L911.98,462.57 L913.44,462.58 L914.91,462.60 L916.37,462.63 L917.83,462.66 L919.30,462.68 L920.76,462.69 L922.22,462.70 L923.69,462.70 L925.15,462.70 L926.61,462.70 L928.08,462.70 L929.54,462.69 L931.00,462.68 L932.47,462.66 L933.93,462.63 L935.39,462.60 L936.86,462.58 L938.32,462.57 L939.78,462.58 L941.25,462.65 L942.71,462.81 L944.17,463.15 L945.64,463.83 L947.10,466.42 L947.10,471.98 L945.64,474.57 L944.17,475.25 L942.71,475.59 L941.25,475.75 L939.78,475.82 L938.32,475.83 L936.86,475.82 L935.39,475.80 L933.93,475.77 L932.47,475.74 L931.00,475.72 L929.54,475.71 L928.08,475.70 L926.61,475.70 L925.15,475.70 L923.69,475.70 L922.22,475.70 L920.76,475.71 L919.30,475.72 L917.83,475.74 L916.37,475.77 L914.91,475.80 L913.44,475.82 L911.98,475.83 L910.52,475.82 L909.05,475.75 L907.59,475.59 L906.13,475.25 L904.66,474.57 L903.20,471.98 Z" fill="#1f1c1d" opacity="1.00" filter="url(#bl)" stroke="#1f1c1d" stroke-width="0.8" stroke-linejoin="round"/>
<path d="M903.20,481.22 L904.66,480.02 L906.13,479.71 L907.59,479.55 L909.05,479.48 L910.52,479.45 L911.98,479.44 L913.44,479.44 L914.91,479.46 L916.37,479.47 L917.83,479.48 L919.30,479.49 L920.76,479.50 L922.22,479.50 L923.69,479.50 L925.15,479.50 L926.61,479.50 L928.08,479.50 L929.54,479.50 L931.00,479.49 L932.47,479.48 L933.93,479.47 L935.39,479.46 L936.86,479.44 L938.32,479.44 L939.78,479.45 L941.25,479.48 L942.71,479.55 L944.17,479.71 L945.64,480.02 L947.10,481.22 L947.10,483.78 L945.64,484.98 L944.17,485.29 L942.71,485.45 L941.25,485.52 L939.78,485.55 L938.32,485.56 L936.86,485.56 L935.39,485.54 L933.93,485.53 L932.47,485.52 L931.00,485.51 L929.54,485.50 L928.08,485.50 L926.61,485.50 L925.15,485.50 L923.69,485.50 L922.22,485.50 L920.76,485.50 L919.30,485.51 L917.83,485.52 L916.37,485.53 L914.91,485.54 L913.44,485.56 L911.98,485.56 L910.52,485.55 L909.05,485.52 L907.59,485.45 L906.13,485.29 L904.66,484.98 L903.20,483.78 Z" fill="#1f1c1d" opacity="0.22" filter="url(#bl2)" stroke="#1f1c1d" stroke-width="0" stroke-linejoin="round"/>
<path d="M958.90,466.32 L960.34,465.12 L961.77,464.81 L963.21,464.65 L964.65,464.58 L966.08,464.55 L967.52,464.54 L968.96,464.54 L970.39,464.56 L971.83,464.57 L973.27,464.58 L974.70,464.59 L976.14,464.60 L977.58,464.60 L979.01,464.60 L980.45,464.60 L981.89,464.59 L983.32,464.57 L984.76,464.54 L986.20,464.48 L987.63,464.40 L989.07,464.30 L990.51,464.17 L991.94,464.03 L993.38,463.88 L994.82,463.72 L996.25,463.57 L997.69,463.44 L999.13,463.40 L1000.56,463.52 L1002.00,464.64 L1002.00,467.56 L1000.56,469.07 L999.13,469.55 L997.69,469.84 L996.25,470.02 L994.82,470.15 L993.38,470.24 L991.94,470.32 L990.51,470.37 L989.07,470.42 L987.63,470.47 L986.20,470.51 L984.76,470.54 L983.32,470.57 L981.89,470.59 L980.45,470.60 L979.01,470.60 L977.58,470.60 L976.14,470.60 L974.70,470.61 L973.27,470.62 L971.83,470.63 L970.39,470.64 L968.96,470.66 L967.52,470.66 L966.08,470.65 L964.65,470.62 L963.21,470.55 L961.77,470.39 L960.34,470.08 L958.90,468.88 Z" fill="#1f1c1d" opacity="0.99" filter="url(#bl)" stroke="#1f1c1d" stroke-width="0.8" stroke-linejoin="round"/>
<path d="M788.80,527.35 L790.18,526.55 L791.57,526.34 L792.95,526.24 L794.33,526.19 L795.72,526.16 L797.10,526.16 L798.48,526.16 L799.87,526.17 L801.25,526.18 L802.63,526.19 L804.02,526.19 L805.40,526.20 L806.78,526.20 L808.17,526.20 L809.55,526.20 L810.93,526.20 L812.32,526.20 L813.70,526.20 L815.08,526.19 L816.47,526.19 L817.85,526.18 L819.23,526.17 L820.62,526.16 L822.00,526.16 L823.38,526.16 L824.77,526.19 L826.15,526.24 L827.53,526.34 L828.92,526.55 L830.30,527.35 L830.30,529.05 L828.92,529.85 L827.53,530.06 L826.15,530.16 L824.77,530.21 L823.38,530.24 L822.00,530.24 L820.62,530.24 L819.23,530.23 L817.85,530.22 L816.47,530.21 L815.08,530.21 L813.70,530.20 L812.32,530.20 L810.93,530.20 L809.55,530.20 L808.17,530.20 L806.78,530.20 L805.40,530.20 L804.02,530.21 L802.63,530.21 L801.25,530.22 L799.87,530.23 L798.48,530.24 L797.10,530.24 L795.72,530.24 L794.33,530.21 L792.95,530.16 L791.57,530.06 L790.18,529.85 L788.80,529.05 Z" fill="#1f1c1d" opacity="0.67" filter="url(#bl)" stroke="#1f1c1d" stroke-width="0" stroke-linejoin="round"/>
<path d="M846.00,526.41 L847.46,525.01 L848.93,524.64 L850.39,524.46 L851.85,524.37 L853.32,524.34 L854.78,524.33 L856.24,524.33 L857.71,524.35 L859.17,524.36 L860.63,524.38 L862.10,524.39 L863.56,524.39 L865.02,524.40 L866.49,524.40 L867.95,524.40 L869.41,524.40 L870.88,524.40 L872.34,524.39 L873.80,524.39 L875.27,524.38 L876.73,524.36 L878.19,524.35 L879.66,524.33 L881.12,524.33 L882.58,524.34 L884.05,524.37 L885.51,524.46 L886.97,524.64 L888.44,525.01 L889.90,526.41 L889.90,529.39 L888.44,530.79 L886.97,531.16 L885.51,531.34 L884.05,531.43 L882.58,531.46 L881.12,531.47 L879.66,531.47 L878.19,531.45 L876.73,531.44 L875.27,531.42 L873.80,531.41 L872.34,531.41 L870.88,531.40 L869.41,531.40 L867.95,531.40 L866.49,531.40 L865.02,531.40 L863.56,531.41 L862.10,531.41 L860.63,531.42 L859.17,531.44 L857.71,531.45 L856.24,531.47 L854.78,531.47 L853.32,531.46 L851.85,531.43 L850.39,531.34 L848.93,531.16 L847.46,530.79 L846.00,529.39 Z" fill="#1f1c1d" opacity="1.00" filter="url(#bl)" stroke="#1f1c1d" stroke-width="0.8" stroke-linejoin="round"/>
<path d="M903.20,524.91 L904.64,523.51 L906.07,523.14 L907.51,522.96 L908.95,522.87 L910.38,522.84 L911.82,522.83 L913.26,522.83 L914.69,522.85 L916.13,522.86 L917.57,522.88 L919.00,522.89 L920.44,522.89 L921.88,522.90 L923.31,522.90 L924.75,522.90 L926.19,522.90 L927.62,522.90 L929.06,522.89 L930.50,522.89 L931.93,522.88 L933.37,522.86 L934.81,522.85 L936.24,522.83 L937.68,522.83 L939.12,522.84 L940.55,522.87 L941.99,522.96 L943.43,523.14 L944.86,523.51 L946.30,524.91 L946.30,527.89 L944.86,529.29 L943.43,529.66 L941.99,529.84 L940.55,529.93 L939.12,529.96 L937.68,529.97 L936.24,529.97 L934.81,529.95 L933.37,529.94 L931.93,529.92 L930.50,529.91 L929.06,529.91 L927.62,529.90 L926.19,529.90 L924.75,529.90 L923.31,529.90 L921.88,529.90 L920.44,529.91 L919.00,529.91 L917.57,529.92 L916.13,529.94 L914.69,529.95 L913.26,529.97 L911.82,529.97 L910.38,529.96 L908.95,529.93 L907.51,529.84 L906.07,529.66 L904.64,529.29 L903.20,527.89 Z" fill="#1f1c1d" opacity="1.00" filter="url(#bl)" stroke="#1f1c1d" stroke-width="0.8" stroke-linejoin="round"/>
<path d="M958.90,524.72 L960.39,523.52 L961.87,523.21 L963.36,523.05 L964.85,522.98 L966.33,522.95 L967.82,522.94 L969.31,522.94 L970.79,522.96 L972.28,522.97 L973.77,522.98 L975.25,522.99 L976.74,523.00 L978.23,523.00 L979.71,523.00 L981.20,523.00 L982.69,522.99 L984.17,522.96 L985.66,522.92 L987.15,522.84 L988.63,522.74 L990.12,522.62 L991.61,522.46 L993.09,522.29 L994.58,522.10 L996.07,521.89 L997.55,521.70 L999.04,521.52 L1000.53,521.42 L1002.01,521.48 L1003.50,522.54 L1003.50,525.46 L1002.01,527.03 L1000.53,527.57 L999.04,527.92 L997.55,528.15 L996.07,528.33 L994.58,528.46 L993.09,528.57 L991.61,528.66 L990.12,528.74 L988.63,528.81 L987.15,528.87 L985.66,528.92 L984.17,528.97 L982.69,528.99 L981.20,529.00 L979.71,529.00 L978.23,529.00 L976.74,529.00 L975.25,529.01 L973.77,529.02 L972.28,529.03 L970.79,529.04 L969.31,529.06 L967.82,529.06 L966.33,529.05 L964.85,529.02 L963.36,528.95 L961.87,528.79 L960.39,528.48 L958.90,527.28 Z" fill="#1f1c1d" opacity="1.00" filter="url(#bl)" stroke="#1f1c1d" stroke-width="0.8" stroke-linejoin="round"/>
<path d="M787.20,591.24 L788.77,588.84 L790.34,588.21 L791.91,587.91 L793.48,587.76 L795.05,587.69 L796.62,587.68 L798.19,587.69 L799.76,587.71 L801.33,587.74 L802.90,587.76 L804.47,587.78 L806.04,587.79 L807.61,587.80 L809.18,587.80 L810.75,587.80 L812.32,587.80 L813.89,587.80 L815.46,587.79 L817.03,587.78 L818.60,587.76 L820.17,587.74 L821.74,587.71 L823.31,587.69 L824.88,587.68 L826.45,587.69 L828.02,587.76 L829.59,587.91 L831.16,588.21 L832.73,588.84 L834.30,591.24 L834.30,596.36 L832.73,598.76 L831.16,599.39 L829.59,599.69 L828.02,599.84 L826.45,599.91 L824.88,599.92 L823.31,599.91 L821.74,599.89 L820.17,599.86 L818.60,599.84 L817.03,599.82 L815.46,599.81 L813.89,599.80 L812.32,599.80 L810.75,599.80 L809.18,599.80 L807.61,599.80 L806.04,599.81 L804.47,599.82 L802.90,599.84 L801.33,599.86 L799.76,599.89 L798.19,599.91 L796.62,599.92 L795.05,599.91 L793.48,599.84 L791.91,599.69 L790.34,599.39 L788.77,598.76 L787.20,596.36 Z" fill="#1f1c1d" opacity="1.00" filter="url(#bl)" stroke="#1f1c1d" stroke-width="0.8" stroke-linejoin="round"/>
<path d="M843.70,590.44 L845.27,588.04 L846.83,587.41 L848.40,587.11 L849.97,586.96 L851.53,586.89 L853.10,586.88 L854.67,586.89 L856.23,586.91 L857.80,586.94 L859.37,586.96 L860.93,586.98 L862.50,586.99 L864.07,587.00 L865.63,587.00 L867.20,587.00 L868.77,587.00 L870.33,587.00 L871.90,586.99 L873.47,586.98 L875.03,586.96 L876.60,586.94 L878.17,586.91 L879.73,586.89 L881.30,586.88 L882.87,586.89 L884.43,586.96 L886.00,587.11 L887.57,587.41 L889.13,588.04 L890.70,590.44 L890.70,595.56 L889.13,597.96 L887.57,598.59 L886.00,598.89 L884.43,599.04 L882.87,599.11 L881.30,599.12 L879.73,599.11 L878.17,599.09 L876.60,599.06 L875.03,599.04 L873.47,599.02 L871.90,599.01 L870.33,599.00 L868.77,599.00 L867.20,599.00 L865.63,599.00 L864.07,599.00 L862.50,599.01 L860.93,599.02 L859.37,599.04 L857.80,599.06 L856.23,599.09 L854.67,599.11 L853.10,599.12 L851.53,599.11 L849.97,599.04 L848.40,598.89 L846.83,598.59 L845.27,597.96 L843.70,595.56 Z" fill="#1f1c1d" opacity="1.00" filter="url(#bl)" stroke="#1f1c1d" stroke-width="0.8" stroke-linejoin="round"/>
<path d="M897.70,589.53 L899.37,587.03 L901.05,586.38 L902.72,586.06 L904.39,585.90 L906.07,585.84 L907.74,585.82 L909.41,585.83 L911.09,585.86 L912.76,585.88 L914.43,585.91 L916.11,585.93 L917.78,585.94 L919.45,585.95 L921.13,585.95 L922.80,585.95 L924.47,585.93 L926.15,585.88 L927.82,585.78 L929.49,585.63 L931.17,585.41 L932.84,585.12 L934.51,584.76 L936.19,584.35 L937.86,583.89 L939.53,583.41 L941.21,582.93 L942.88,582.51 L944.55,582.24 L946.23,582.37 L947.90,584.83 L947.90,591.57 L946.23,595.06 L944.55,596.15 L942.88,596.77 L941.21,597.17 L939.53,597.44 L937.86,597.63 L936.19,597.77 L934.51,597.89 L932.84,598.00 L931.17,598.10 L929.49,598.20 L927.82,598.30 L926.15,598.38 L924.47,598.43 L922.80,598.45 L921.13,598.45 L919.45,598.45 L917.78,598.46 L916.11,598.47 L914.43,598.49 L912.76,598.52 L911.09,598.54 L909.41,598.57 L907.74,598.58 L906.07,598.56 L904.39,598.50 L902.72,598.34 L901.05,598.02 L899.37,597.37 L897.70,594.87 Z" fill="#1f1c1d" opacity="1.00" filter="url(#bl)" stroke="#1f1c1d" stroke-width="0.8" stroke-linejoin="round"/>
<path d="M955.00,588.73 L956.72,586.23 L958.45,585.58 L960.17,585.26 L961.89,585.10 L963.62,585.04 L965.34,585.02 L967.06,585.03 L968.79,585.06 L970.51,585.08 L972.23,585.11 L973.96,585.13 L975.68,585.14 L977.40,585.15 L979.13,585.15 L980.85,585.15 L982.57,585.12 L984.30,585.04 L986.02,584.90 L987.74,584.68 L989.47,584.34 L991.19,583.91 L992.91,583.36 L994.64,582.73 L996.36,582.01 L998.08,581.23 L999.81,580.44 L1001.53,579.68 L1003.25,579.09 L1004.98,578.95 L1006.70,581.51 L1006.70,589.29 L1004.98,593.40 L1003.25,594.69 L1001.53,595.44 L999.81,595.91 L998.08,596.23 L996.36,596.47 L994.64,596.66 L992.91,596.82 L991.19,596.97 L989.47,597.12 L987.74,597.27 L986.02,597.42 L984.30,597.55 L982.57,597.62 L980.85,597.65 L979.13,597.65 L977.40,597.65 L975.68,597.66 L973.96,597.67 L972.23,597.69 L970.51,597.72 L968.79,597.74 L967.06,597.77 L965.34,597.78 L963.62,597.76 L961.89,597.70 L960.17,597.54 L958.45,597.22 L956.72,596.57 L955.00,594.07 Z" fill="#1f1c1d" opacity="1.00" filter="url(#bl)" stroke="#1f1c1d" stroke-width="0.8" stroke-linejoin="round"/>
<path d="M788.00,656.09 L789.52,654.49 L791.03,654.07 L792.55,653.87 L794.07,653.77 L795.58,653.73 L797.10,653.72 L798.62,653.73 L800.13,653.74 L801.65,653.76 L803.17,653.77 L804.68,653.79 L806.20,653.79 L807.72,653.80 L809.23,653.80 L810.75,653.80 L812.27,653.80 L813.78,653.80 L815.30,653.79 L816.82,653.79 L818.33,653.77 L819.85,653.76 L821.37,653.74 L822.88,653.73 L824.40,653.72 L825.92,653.73 L827.43,653.77 L828.95,653.87 L830.47,654.07 L831.98,654.49 L833.50,656.09 L833.50,659.51 L831.98,661.11 L830.47,661.53 L828.95,661.73 L827.43,661.83 L825.92,661.87 L824.40,661.88 L822.88,661.87 L821.37,661.86 L819.85,661.84 L818.33,661.83 L816.82,661.81 L815.30,661.81 L813.78,661.80 L812.27,661.80 L810.75,661.80 L809.23,661.80 L807.72,661.80 L806.20,661.81 L804.68,661.81 L803.17,661.83 L801.65,661.84 L800.13,661.86 L798.62,661.87 L797.10,661.88 L795.58,661.87 L794.07,661.83 L792.55,661.73 L791.03,661.53 L789.52,661.11 L788.00,659.51 Z" fill="#1f1c1d" opacity="0.41" filter="url(#bl)" stroke="#1f1c1d" stroke-width="0" stroke-linejoin="round"/>
<path d="M846.80,656.69 L848.26,655.09 L849.73,654.67 L851.19,654.47 L852.65,654.37 L854.12,654.33 L855.58,654.32 L857.04,654.33 L858.51,654.34 L859.97,654.36 L861.43,654.37 L862.90,654.39 L864.36,654.39 L865.82,654.40 L867.29,654.40 L868.75,654.40 L870.21,654.40 L871.68,654.40 L873.14,654.39 L874.60,654.39 L876.07,654.37 L877.53,654.36 L878.99,654.34 L880.46,654.33 L881.92,654.32 L883.38,654.33 L884.85,654.37 L886.31,654.47 L887.77,654.67 L889.24,655.09 L890.70,656.69 L890.70,660.11 L889.24,661.71 L887.77,662.13 L886.31,662.33 L884.85,662.43 L883.38,662.47 L881.92,662.48 L880.46,662.47 L878.99,662.46 L877.53,662.44 L876.07,662.43 L874.60,662.41 L873.14,662.41 L871.68,662.40 L870.21,662.40 L868.75,662.40 L867.29,662.40 L865.82,662.40 L864.36,662.41 L862.90,662.41 L861.43,662.43 L859.97,662.44 L858.51,662.46 L857.04,662.47 L855.58,662.48 L854.12,662.47 L852.65,662.43 L851.19,662.33 L849.73,662.13 L848.26,661.71 L846.80,660.11 Z" fill="#1f1c1d" opacity="0.92" filter="url(#bl)" stroke="#1f1c1d" stroke-width="0.8" stroke-linejoin="round"/>
<path d="M902.40,656.29 L903.89,654.69 L905.38,654.27 L906.87,654.07 L908.36,653.97 L909.85,653.93 L911.34,653.92 L912.83,653.93 L914.32,653.94 L915.81,653.96 L917.30,653.97 L918.79,653.99 L920.28,653.99 L921.77,654.00 L923.26,654.00 L924.75,654.00 L926.24,653.99 L927.73,653.96 L929.22,653.91 L930.71,653.83 L932.20,653.70 L933.69,653.51 L935.18,653.28 L936.67,653.01 L938.16,652.71 L939.65,652.39 L941.14,652.07 L942.63,651.80 L944.12,651.64 L945.61,651.77 L947.10,653.59 L947.10,658.41 L945.61,660.74 L944.12,661.35 L942.63,661.64 L941.14,661.78 L939.65,661.83 L938.16,661.85 L936.67,661.85 L935.18,661.84 L933.69,661.85 L932.20,661.86 L930.71,661.89 L929.22,661.93 L927.73,661.97 L926.24,661.99 L924.75,662.00 L923.26,662.00 L921.77,662.00 L920.28,662.01 L918.79,662.01 L917.30,662.03 L915.81,662.04 L914.32,662.06 L912.83,662.07 L911.34,662.08 L909.85,662.07 L908.36,662.03 L906.87,661.93 L905.38,661.73 L903.89,661.31 L902.40,659.71 Z" fill="url(#ts6a)" filter="url(#bl)"/>
<path d="M958.90,655.58 L960.47,653.78 L962.03,653.31 L963.60,653.08 L965.17,652.97 L966.73,652.92 L968.30,652.91 L969.87,652.92 L971.43,652.93 L973.00,652.95 L974.57,652.97 L976.13,652.98 L977.70,652.99 L979.27,653.00 L980.83,653.00 L982.40,653.00 L983.97,652.99 L985.53,652.96 L987.10,652.91 L988.67,652.83 L990.23,652.69 L991.80,652.51 L993.37,652.28 L994.93,652.00 L996.50,651.70 L998.07,651.38 L999.63,651.07 L1001.20,650.81 L1002.77,650.68 L1004.33,650.86 L1005.90,652.88 L1005.90,658.12 L1004.33,660.66 L1002.77,661.32 L1001.20,661.63 L999.63,661.78 L998.07,661.84 L996.50,661.86 L994.93,661.86 L993.37,661.85 L991.80,661.85 L990.23,661.86 L988.67,661.89 L987.10,661.93 L985.53,661.97 L983.97,661.99 L982.40,662.00 L980.83,662.00 L979.27,662.00 L977.70,662.01 L976.13,662.02 L974.57,662.03 L973.00,662.05 L971.43,662.07 L969.87,662.08 L968.30,662.09 L966.73,662.08 L965.17,662.03 L963.60,661.92 L962.03,661.69 L960.47,661.22 L958.90,659.42 Z" fill="url(#ts6b)" filter="url(#bl)"/>
<path d="M788.00,717.82 L789.49,716.62 L790.98,716.31 L792.47,716.15 L793.96,716.08 L795.45,716.05 L796.94,716.04 L798.43,716.04 L799.92,716.06 L801.41,716.07 L802.90,716.08 L804.39,716.09 L805.88,716.10 L807.37,716.10 L808.86,716.10 L810.35,716.10 L811.84,716.10 L813.33,716.10 L814.82,716.10 L816.31,716.09 L817.80,716.08 L819.29,716.07 L820.78,716.06 L822.27,716.04 L823.76,716.04 L825.25,716.05 L826.74,716.08 L828.23,716.15 L829.72,716.31 L831.21,716.62 L832.70,717.82 L832.70,720.38 L831.21,721.58 L829.72,721.89 L828.23,722.05 L826.74,722.12 L825.25,722.15 L823.76,722.16 L822.27,722.16 L820.78,722.14 L819.29,722.13 L817.80,722.12 L816.31,722.11 L814.82,722.10 L813.33,722.10 L811.84,722.10 L810.35,722.10 L808.86,722.10 L807.37,722.10 L805.88,722.10 L804.39,722.11 L802.90,722.12 L801.41,722.13 L799.92,722.14 L798.43,722.16 L796.94,722.16 L795.45,722.15 L793.96,722.12 L792.47,722.05 L790.98,721.89 L789.49,721.58 L788.00,720.38 Z" fill="#1f1c1d" opacity="1.00" filter="url(#bl)" stroke="#1f1c1d" stroke-width="0.8" stroke-linejoin="round"/>
<path d="M845.20,718.08 L846.79,716.28 L848.39,715.81 L849.98,715.58 L851.57,715.47 L853.17,715.42 L854.76,715.41 L856.35,715.42 L857.95,715.43 L859.54,715.45 L861.13,715.47 L862.73,715.48 L864.32,715.49 L865.91,715.50 L867.51,715.50 L869.10,715.50 L870.69,715.50 L872.29,715.50 L873.88,715.49 L875.47,715.48 L877.07,715.47 L878.66,715.45 L880.25,715.43 L881.85,715.42 L883.44,715.41 L885.03,715.42 L886.63,715.47 L888.22,715.58 L889.81,715.81 L891.41,716.28 L893.00,718.08 L893.00,721.92 L891.41,723.72 L889.81,724.19 L888.22,724.42 L886.63,724.53 L885.03,724.58 L883.44,724.59 L881.85,724.58 L880.25,724.57 L878.66,724.55 L877.07,724.53 L875.47,724.52 L873.88,724.51 L872.29,724.50 L870.69,724.50 L869.10,724.50 L867.51,724.50 L865.91,724.50 L864.32,724.51 L862.73,724.52 L861.13,724.53 L859.54,724.55 L857.95,724.57 L856.35,724.58 L854.76,724.59 L853.17,724.58 L851.57,724.53 L849.98,724.42 L848.39,724.19 L846.79,723.72 L845.20,721.92 Z" fill="#1f1c1d" opacity="1.00" filter="url(#bl)" stroke="#1f1c1d" stroke-width="0.8" stroke-linejoin="round"/>
<path d="M904.80,720.46 L906.13,719.86 L907.47,719.70 L908.80,719.63 L910.13,719.59 L911.47,719.57 L912.80,719.57 L914.13,719.57 L915.47,719.58 L916.80,719.58 L918.13,719.59 L919.47,719.59 L920.80,719.60 L922.13,719.60 L923.47,719.60 L924.80,719.60 L926.13,719.60 L927.47,719.60 L928.80,719.60 L930.13,719.59 L931.47,719.59 L932.80,719.58 L934.13,719.58 L935.47,719.57 L936.80,719.57 L938.13,719.57 L939.47,719.59 L940.80,719.63 L942.13,719.70 L943.47,719.86 L944.80,720.46 L944.80,721.74 L943.47,722.34 L942.13,722.50 L940.80,722.57 L939.47,722.61 L938.13,722.63 L936.80,722.63 L935.47,722.63 L934.13,722.62 L932.80,722.62 L931.47,722.61 L930.13,722.61 L928.80,722.60 L927.47,722.60 L926.13,722.60 L924.80,722.60 L923.47,722.60 L922.13,722.60 L920.80,722.60 L919.47,722.61 L918.13,722.61 L916.80,722.62 L915.47,722.62 L914.13,722.63 L912.80,722.63 L911.47,722.63 L910.13,722.61 L908.80,722.57 L907.47,722.50 L906.13,722.34 L904.80,721.74 Z" fill="#1f1c1d" opacity="0.32" filter="url(#bl2)" stroke="#1f1c1d" stroke-width="0" stroke-linejoin="round"/>
<path d="M961.20,719.82 L962.72,718.62 L964.23,718.31 L965.75,718.15 L967.27,718.08 L968.78,718.05 L970.30,718.04 L971.82,718.04 L973.33,718.06 L974.85,718.07 L976.37,718.08 L977.88,718.09 L979.40,718.10 L980.92,718.10 L982.43,718.10 L983.95,718.10 L985.47,718.09 L986.98,718.05 L988.50,717.98 L990.02,717.87 L991.53,717.72 L993.05,717.53 L994.57,717.29 L996.08,717.02 L997.60,716.71 L999.12,716.39 L1000.63,716.05 L1002.15,715.74 L1003.67,715.49 L1005.18,715.42 L1006.70,716.47 L1006.70,719.73 L1005.18,721.56 L1003.67,722.21 L1002.15,722.62 L1000.63,722.92 L999.12,723.15 L997.60,723.33 L996.08,723.47 L994.57,723.60 L993.05,723.71 L991.53,723.81 L990.02,723.90 L988.50,723.98 L986.98,724.05 L985.47,724.09 L983.95,724.10 L982.43,724.10 L980.92,724.10 L979.40,724.10 L977.88,724.11 L976.37,724.12 L974.85,724.13 L973.33,724.14 L971.82,724.16 L970.30,724.16 L968.78,724.15 L967.27,724.12 L965.75,724.05 L964.23,723.89 L962.72,723.58 L961.20,722.38 Z" fill="#1f1c1d" opacity="1.00" filter="url(#bl)" stroke="#1f1c1d" stroke-width="0.8" stroke-linejoin="round"/>
<path d="M785.70,772.86 L787.42,769.26 L789.15,768.32 L790.87,767.86 L792.59,767.63 L794.32,767.54 L796.04,767.52 L797.76,767.53 L799.49,767.57 L801.21,767.60 L802.93,767.64 L804.66,767.67 L806.38,767.69 L808.10,767.70 L809.83,767.70 L811.55,767.70 L813.27,767.70 L815.00,767.70 L816.72,767.69 L818.44,767.67 L820.17,767.64 L821.89,767.60 L823.61,767.57 L825.34,767.53 L827.06,767.52 L828.78,767.54 L830.51,767.63 L832.23,767.86 L833.95,768.32 L835.68,769.26 L837.40,772.86 L837.40,780.54 L835.68,784.14 L833.95,785.08 L832.23,785.54 L830.51,785.77 L828.78,785.86 L827.06,785.88 L825.34,785.87 L823.61,785.83 L821.89,785.80 L820.17,785.76 L818.44,785.73 L816.72,785.71 L815.00,785.70 L813.27,785.70 L811.55,785.70 L809.83,785.70 L808.10,785.70 L806.38,785.71 L804.66,785.73 L802.93,785.76 L801.21,785.80 L799.49,785.83 L797.76,785.87 L796.04,785.88 L794.32,785.86 L792.59,785.77 L790.87,785.54 L789.15,785.08 L787.42,784.14 L785.70,780.54 Z" fill="#1f1c1d" opacity="1.00" filter="url(#bl)" stroke="#1f1c1d" stroke-width="0.8" stroke-linejoin="round"/>
<path d="M842.10,772.16 L843.85,768.56 L845.60,767.62 L847.35,767.16 L849.10,766.93 L850.85,766.84 L852.60,766.82 L854.35,766.83 L856.10,766.87 L857.85,766.90 L859.60,766.94 L861.35,766.97 L863.10,766.99 L864.85,767.00 L866.60,767.00 L868.35,767.00 L870.10,767.00 L871.85,767.00 L873.60,766.99 L875.35,766.97 L877.10,766.94 L878.85,766.90 L880.60,766.87 L882.35,766.83 L884.10,766.82 L885.85,766.84 L887.60,766.93 L889.35,767.16 L891.10,767.62 L892.85,768.56 L894.60,772.16 L894.60,779.84 L892.85,783.44 L891.10,784.38 L889.35,784.84 L887.60,785.07 L885.85,785.16 L884.10,785.18 L882.35,785.17 L880.60,785.13 L878.85,785.10 L877.10,785.06 L875.35,785.03 L873.60,785.01 L871.85,785.00 L870.10,785.00 L868.35,785.00 L866.60,785.00 L864.85,785.00 L863.10,785.01 L861.35,785.03 L859.60,785.06 L857.85,785.10 L856.10,785.13 L854.35,785.17 L852.60,785.18 L850.85,785.16 L849.10,785.07 L847.35,784.84 L845.60,784.38 L843.85,783.44 L842.10,779.84 Z" fill="#1f1c1d" opacity="1.00" filter="url(#bl)" stroke="#1f1c1d" stroke-width="0.8" stroke-linejoin="round"/>
<path d="M899.30,772.08 L900.95,768.89 L902.59,768.05 L904.24,767.64 L905.89,767.44 L907.53,767.36 L909.18,767.34 L910.83,767.35 L912.47,767.38 L914.12,767.41 L915.77,767.45 L917.41,767.47 L919.06,767.49 L920.71,767.50 L922.35,767.50 L924.00,767.50 L925.65,767.48 L927.29,767.42 L928.94,767.33 L930.59,767.18 L932.23,766.99 L933.88,766.74 L935.53,766.45 L937.17,766.13 L938.82,765.77 L940.47,765.42 L942.11,765.08 L943.76,764.83 L945.41,764.76 L947.05,765.11 L948.70,767.91 L948.70,775.09 L947.05,778.92 L945.41,780.23 L943.76,781.05 L942.11,781.61 L940.47,782.03 L938.82,782.35 L937.17,782.60 L935.53,782.80 L933.88,782.98 L932.23,783.12 L930.59,783.25 L928.94,783.35 L927.29,783.43 L925.65,783.48 L924.00,783.50 L922.35,783.50 L920.71,783.50 L919.06,783.51 L917.41,783.53 L915.77,783.55 L914.12,783.59 L912.47,783.62 L910.83,783.65 L909.18,783.66 L907.53,783.64 L905.89,783.56 L904.24,783.36 L902.59,782.95 L900.95,782.11 L899.30,778.92 Z" fill="#1f1c1d" opacity="1.00" filter="url(#bl)" stroke="#1f1c1d" stroke-width="0.8" stroke-linejoin="round"/>
<path d="M954.20,767.67 L956.00,764.27 L957.80,763.38 L959.60,762.95 L961.40,762.74 L963.20,762.65 L965.00,762.63 L966.80,762.64 L968.60,762.67 L970.40,762.71 L972.20,762.74 L974.00,762.77 L975.80,762.79 L977.60,762.80 L979.40,762.80 L981.20,762.80 L983.00,762.78 L984.80,762.71 L986.60,762.59 L988.40,762.40 L990.20,762.12 L992.00,761.75 L993.80,761.31 L995.60,760.79 L997.40,760.22 L999.20,759.61 L1001.00,759.02 L1002.80,758.51 L1004.60,758.21 L1006.40,758.45 L1008.20,761.80 L1008.20,770.80 L1006.40,775.44 L1004.60,776.88 L1002.80,777.69 L1001.00,778.20 L999.20,778.54 L997.40,778.78 L995.60,778.96 L993.80,779.11 L992.00,779.25 L990.20,779.37 L988.40,779.49 L986.60,779.61 L984.80,779.72 L983.00,779.78 L981.20,779.80 L979.40,779.80 L977.60,779.80 L975.80,779.81 L974.00,779.83 L972.20,779.86 L970.40,779.89 L968.60,779.93 L966.80,779.96 L965.00,779.97 L963.20,779.95 L961.40,779.86 L959.60,779.65 L957.80,779.22 L956.00,778.33 L954.20,774.93 Z" fill="#1f1c1d" opacity="1.00" filter="url(#bl)" stroke="#1f1c1d" stroke-width="0.8" stroke-linejoin="round"/>
<rect x="782.30" y="131.30" width="229.30" height="84.80" fill="none" stroke="#333" stroke-width="1.5"/>
<rect x="782.30" y="219.20" width="229.30" height="61.90" fill="none" stroke="#333" stroke-width="1.5"/>
<rect x="782.30" y="284.60" width="229.30" height="53.60" fill="none" stroke="#333" stroke-width="1.5"/>
<rect x="782.30" y="341.30" width="229.30" height="51.90" fill="none" stroke="#333" stroke-width="1.5"/>
<rect x="782.30" y="396.60" width="229.30" height="51.70" fill="none" stroke="#333" stroke-width="1.5"/>
<rect x="782.30" y="451.40" width="229.30" height="54.30" fill="none" stroke="#333" stroke-width="1.5"/>
<rect x="782.30" y="509.10" width="229.30" height="54.60" fill="none" stroke="#333" stroke-width="1.5"/>
<rect x="782.30" y="566.80" width="229.30" height="58.00" fill="none" stroke="#333" stroke-width="1.5"/>
<rect x="782.30" y="627.80" width="229.30" height="58.00" fill="none" stroke="#333" stroke-width="1.5"/>
<rect x="782.30" y="689.00" width="229.30" height="58.00" fill="none" stroke="#333" stroke-width="1.5"/>
<rect x="782.30" y="750.10" width="229.30" height="58.00" fill="none" stroke="#333" stroke-width="1.5"/>
<text transform="translate(681.20 215.20) scale(1.0252 1)" font-size="26.8" fill="#231f20"><tspan x="-1.34">25 kD</tspan></text>
<line x1="761.70" y1="207.40" x2="782.30" y2="207.40" stroke="#2b2b2b" stroke-width="1.6"/>
<text transform="translate(681.20 281.40) scale(1.0191 1)" font-size="26.8" fill="#231f20"><tspan x="-0.94">37 kD</tspan></text>
<line x1="761.70" y1="277.80" x2="782.30" y2="277.80" stroke="#2b2b2b" stroke-width="1.6"/>
<text transform="translate(681.20 338.10) scale(1.0191 1)" font-size="26.8" fill="#231f20"><tspan x="-0.94">37 kD</tspan></text>
<line x1="761.70" y1="333.20" x2="782.30" y2="333.20" stroke="#2b2b2b" stroke-width="1.6"/>
<text transform="translate(681.20 394.50) scale(1.0191 1)" font-size="26.8" fill="#231f20"><tspan x="-0.94">37 kD</tspan></text>
<line x1="761.70" y1="389.00" x2="782.30" y2="389.00" stroke="#2b2b2b" stroke-width="1.6"/>
<text transform="translate(681.20 451.30) scale(1.0191 1)" font-size="26.8" fill="#231f20"><tspan x="-0.94">37 kD</tspan></text>
<line x1="761.70" y1="443.80" x2="782.30" y2="443.80" stroke="#2b2b2b" stroke-width="1.6"/>
<text transform="translate(681.20 509.00) scale(1.0252 1)" font-size="26.8" fill="#231f20"><tspan x="-1.34">75 kD</tspan></text>
<line x1="761.70" y1="501.80" x2="782.30" y2="501.80" stroke="#2b2b2b" stroke-width="1.6"/>
<text transform="translate(681.20 568.70) scale(1.0252 1)" font-size="26.8" fill="#231f20"><tspan x="-1.34">75 kD</tspan></text>
<line x1="761.70" y1="561.20" x2="782.30" y2="561.20" stroke="#2b2b2b" stroke-width="1.6"/>
<text transform="translate(681.20 626.40) scale(1.0252 1)" font-size="26.8" fill="#231f20"><tspan x="-1.34">25 kD</tspan></text>
<line x1="761.70" y1="618.20" x2="782.30" y2="618.20" stroke="#2b2b2b" stroke-width="1.6"/>
<text transform="translate(681.20 688.30) scale(1.0252 1)" font-size="26.8" fill="#231f20"><tspan x="-1.34">25 kD</tspan></text>
<line x1="761.70" y1="682.50" x2="782.30" y2="682.50" stroke="#2b2b2b" stroke-width="1.6"/>
<text transform="translate(678.00 735.00) scale(1.0684 1)" font-size="26.8" fill="#231f20"><tspan x="-1.07">50 kD</tspan></text>
<line x1="761.70" y1="727.50" x2="782.30" y2="727.50" stroke="#2b2b2b" stroke-width="1.6"/>
<text transform="translate(681.20 810.60) scale(1.0191 1)" font-size="26.8" fill="#231f20"><tspan x="-0.94">37 kD</tspan></text>
<line x1="761.70" y1="803.40" x2="782.30" y2="803.40" stroke="#2b2b2b" stroke-width="1.6"/>
<text transform="translate(1025.80 173.80)" font-size="26.5" fill="#231f20"><tspan x="-2.12">KRAS</tspan></text>
<text transform="translate(1025.80 256.00)" font-size="26.5" fill="#231f20"><tspan x="-1.59">pMEK</tspan></text>
<text transform="translate(1025.80 322.10)" font-size="26.5" fill="#231f20"><tspan x="-0.53">Total MEK</tspan></text>
<text transform="translate(1025.80 378.20)" font-size="26.5" fill="#231f20"><tspan x="-1.59">pERK</tspan></text>
<text transform="translate(1025.80 434.00)" font-size="26.5" fill="#231f20"><tspan x="-0.53">Total ERK</tspan></text>
<text transform="translate(1025.80 489.40)" font-size="26.5" fill="#231f20"><tspan x="-1.59">pRSK</tspan></text>
<text transform="translate(1025.80 545.90)" font-size="26.5" fill="#231f20"><tspan x="-0.53">Total RSK</tspan></text>
<text transform="translate(1025.80 596.00)" font-size="26.5" fill="#231f20"><tspan x="-1.59">pS6</tspan></text>
<text transform="translate(1025.80 666.50)" font-size="26.5" fill="#231f20"><tspan x="-0.53">Total S6</tspan></text>
<text transform="translate(1025.80 724.90)" font-size="26.5" fill="#231f20"><tspan x="0.00">Vim.</tspan></text>
<text transform="translate(1025.80 780.30)" font-size="26.5" fill="#231f20"><tspan x="0.00">Actin</tspan></text>
<text transform="rotate(-45 806.50 118.30) translate(806.50 118.30)" font-size="27.3" fill="#231f20"><tspan x="-2.18">NCI-H23-P</tspan></text>
<text transform="rotate(-45 858.00 118.30) translate(858.00 118.30)" font-size="27.3" fill="#231f20"><tspan x="-2.18">NCI-H23-R</tspan></text>
<text transform="rotate(-45 914.40 117.30) translate(914.40 117.30)" font-size="27.3" fill="#231f20"><tspan x="-2.18">NCI-H358-P</tspan></text>
<text transform="rotate(-45 973.70 117.30) translate(973.70 117.30)" font-size="27.3" fill="#231f20"><tspan x="-2.18">NCI-H358-R</tspan></text>
<line x1="1311.50" y1="275.00" x2="1311.50" y2="567.20" stroke="#5d5e60" stroke-width="1.6"/>
<line x1="1302.30" y1="567.20" x2="1746.50" y2="567.20" stroke="#5d5e60" stroke-width="1.6"/>
<line x1="1302.30" y1="275.14" x2="1311.50" y2="275.14" stroke="#5d5e60" stroke-width="1.6"/>
<text transform="translate(1249.97 281.94) scale(1.0800 1)" font-size="22.6" fill="#231f20"><tspan x="-1.70">125</tspan></text>
<line x1="1302.30" y1="333.55" x2="1311.50" y2="333.55" stroke="#5d5e60" stroke-width="1.6"/>
<text transform="translate(1249.85 340.35) scale(1.0800 1)" font-size="22.6" fill="#231f20"><tspan x="-1.70">100</tspan></text>
<line x1="1302.30" y1="391.96" x2="1311.50" y2="391.96" stroke="#5d5e60" stroke-width="1.6"/>
<text transform="translate(1262.90 398.76) scale(1.0800 1)" font-size="22.6" fill="#231f20"><tspan x="-1.13">75</tspan></text>
<line x1="1302.30" y1="450.38" x2="1311.50" y2="450.38" stroke="#5d5e60" stroke-width="1.6"/>
<text transform="translate(1262.54 457.18) scale(1.0800 1)" font-size="22.6" fill="#231f20"><tspan x="-0.90">50</tspan></text>
<line x1="1302.30" y1="508.79" x2="1311.50" y2="508.79" stroke="#5d5e60" stroke-width="1.6"/>
<text transform="translate(1262.90 515.59) scale(1.0800 1)" font-size="22.6" fill="#231f20"><tspan x="-1.13">25</tspan></text>
<line x1="1302.30" y1="567.20" x2="1311.50" y2="567.20" stroke="#5d5e60" stroke-width="1.6"/>
<text transform="translate(1275.96 574.00) scale(1.0800 1)" font-size="22.6" fill="#231f20"><tspan x="-0.79">0</tspan></text>
<line x1="1311.50" y1="567.20" x2="1311.50" y2="582.50" stroke="#5d5e60" stroke-width="1.6"/>
<text transform="translate(1281.64 613.40) scale(1.0500 1)" font-size="23.5" fill="#231f20"><tspan x="-0.82">0.001</tspan></text>
<line x1="1411.60" y1="567.20" x2="1411.60" y2="582.50" stroke="#5d5e60" stroke-width="1.6"/>
<text transform="translate(1388.59 613.40) scale(1.0500 1)" font-size="23.5" fill="#231f20"><tspan x="-0.82">0.01</tspan></text>
<line x1="1511.70" y1="567.20" x2="1511.70" y2="582.50" stroke="#5d5e60" stroke-width="1.6"/>
<text transform="translate(1495.54 613.40) scale(1.0500 1)" font-size="23.5" fill="#231f20"><tspan x="-0.82">0.1</tspan></text>
<line x1="1611.80" y1="567.20" x2="1611.80" y2="582.50" stroke="#5d5e60" stroke-width="1.6"/>
<text transform="translate(1606.43 613.40) scale(1.0500 1)" font-size="23.5" fill="#231f20"><tspan x="-1.76">1</tspan></text>
<line x1="1711.90" y1="567.20" x2="1711.90" y2="582.50" stroke="#5d5e60" stroke-width="1.6"/>
<text transform="translate(1699.56 613.40) scale(1.0500 1)" font-size="23.5" fill="#231f20"><tspan x="-1.76">10</tspan></text>
<text transform="translate(1428.20 660.00) scale(1.0526 1)" font-size="27.5" fill="#231f20"><tspan x="-1.93">[sotorasib] (μM)</tspan></text>
<text transform="rotate(-90 1218.70 549.00) translate(1218.70 549.00) scale(0.9965 1)" font-size="28.3" fill="#231f20"><tspan x="-2.26">Relative viability (%)</tspan></text>
<path d="M1355.00,338.80 C1358.77,340.37 1369.75,343.97 1377.60,348.20 C1385.45,352.43 1394.27,356.98 1402.10,364.20 C1409.93,371.42 1418.02,383.20 1424.60,391.50 C1431.18,399.80 1436.88,407.10 1441.60,414.00 C1446.32,420.90 1447.88,423.80 1452.90,432.90 C1457.92,442.00 1465.43,457.32 1471.70,468.60 C1477.97,479.88 1485.18,491.52 1490.50,500.60 C1495.82,509.68 1498.90,516.22 1503.60,523.10 C1508.30,529.98 1513.05,537.03 1518.70,541.90 C1524.35,546.77 1531.23,550.03 1537.50,552.30 C1543.77,554.57 1548.47,554.82 1556.30,555.50 C1564.13,556.18 1570.55,556.22 1584.50,556.40 C1598.45,556.58 1614.45,556.57 1640.00,556.60 C1665.55,556.63 1721.50,556.60 1737.80,556.60" stroke="#4a4a4c" stroke-width="3.2" fill="none" stroke-linecap="round"/>
<path d="M1355.00,338.80 C1358.77,340.05 1369.75,343.17 1377.60,346.30 C1385.45,349.43 1394.27,352.90 1402.10,357.60 C1409.93,362.30 1417.40,368.23 1424.60,374.50 C1431.80,380.77 1439.02,388.30 1445.30,395.20 C1451.58,402.10 1456.33,407.12 1462.30,415.90 C1468.27,424.68 1474.83,436.92 1481.10,447.90 C1487.37,458.88 1493.63,472.08 1499.90,481.80 C1506.17,491.52 1512.43,499.32 1518.70,506.20 C1524.97,513.08 1531.23,518.87 1537.50,523.10 C1543.77,527.33 1550.03,529.72 1556.30,531.60 C1562.57,533.48 1561.15,533.77 1575.10,534.40 C1589.05,535.03 1612.55,535.23 1640.00,535.40 C1667.45,535.57 1723.17,535.40 1739.80,535.40" stroke="#325da8" stroke-width="3.2" fill="none" stroke-linecap="round"/>
<line x1="1354.80" y1="286.50" x2="1354.80" y2="380.30" stroke="#4a4a4c" stroke-width="3.0"/>
<line x1="1347.90" y1="286.50" x2="1361.70" y2="286.50" stroke="#4a4a4c" stroke-width="3.0"/>
<line x1="1347.90" y1="380.30" x2="1361.70" y2="380.30" stroke="#4a4a4c" stroke-width="3.0"/>
<line x1="1402.40" y1="306.10" x2="1402.40" y2="420.70" stroke="#4a4a4c" stroke-width="3.0"/>
<line x1="1395.50" y1="306.10" x2="1409.30" y2="306.10" stroke="#4a4a4c" stroke-width="3.0"/>
<line x1="1395.50" y1="420.70" x2="1409.30" y2="420.70" stroke="#4a4a4c" stroke-width="3.0"/>
<line x1="1450.00" y1="415.20" x2="1450.00" y2="465.40" stroke="#4a4a4c" stroke-width="3.0"/>
<line x1="1443.10" y1="415.20" x2="1456.90" y2="415.20" stroke="#4a4a4c" stroke-width="3.0"/>
<line x1="1443.10" y1="465.40" x2="1456.90" y2="465.40" stroke="#4a4a4c" stroke-width="3.0"/>
<line x1="1402.40" y1="342.20" x2="1402.40" y2="366.10" stroke="#325da8" stroke-width="3.0"/>
<line x1="1395.50" y1="342.20" x2="1409.30" y2="342.20" stroke="#325da8" stroke-width="3.0"/>
<line x1="1395.50" y1="366.10" x2="1409.30" y2="366.10" stroke="#325da8" stroke-width="3.0"/>
<circle cx="1354.8" cy="333.5" r="6.2" fill="#4a4a4c"/>
<circle cx="1402.4" cy="361.0" r="6.2" fill="#4a4a4c"/>
<circle cx="1450.0" cy="440.3" r="6.2" fill="#4a4a4c"/>
<circle cx="1497.6" cy="503.7" r="6.2" fill="#4a4a4c"/>
<circle cx="1545.1" cy="544.1" r="6.2" fill="#4a4a4c"/>
<circle cx="1598.5" cy="554.8" r="6.2" fill="#4a4a4c"/>
<circle cx="1646.1" cy="560.0" r="6.2" fill="#4a4a4c"/>
<circle cx="1693.7" cy="561.4" r="6.2" fill="#4a4a4c"/>
<circle cx="1354.8" cy="333.5" r="6.2" fill="#325da8"/>
<circle cx="1402.4" cy="354.6" r="6.2" fill="#325da8"/>
<circle cx="1450.0" cy="425.0" r="6.2" fill="#325da8"/>
<circle cx="1497.6" cy="474.9" r="6.2" fill="#325da8"/>
<circle cx="1545.7" cy="502.3" r="6.2" fill="#325da8"/>
<circle cx="1593.3" cy="520.4" r="6.2" fill="#325da8"/>
<circle cx="1641.2" cy="531.7" r="6.2" fill="#325da8"/>
<circle cx="1688.8" cy="549.3" r="6.2" fill="#325da8"/>
<circle cx="1742.1" cy="563.4" r="6.2" fill="#325da8"/>
<line x1="1268.50" y1="183.40" x2="1304.10" y2="183.40" stroke="#4a4a4c" stroke-width="3.4"/>
<circle cx="1286" cy="183.4" r="5.6" fill="#4a4a4c"/>
<line x1="1268.50" y1="230.80" x2="1304.10" y2="230.80" stroke="#325da8" stroke-width="3.4"/>
<circle cx="1286" cy="230.8" r="5.6" fill="#325da8"/>
<text transform="translate(1314.60 194.60) scale(1.0076 1)" font-size="27.3" fill="#231f20"><tspan x="-2.18">NCI-H358-P</tspan></text>
<text transform="translate(1314.60 242.30) scale(1.0191 1)" font-size="27.3" fill="#231f20"><tspan x="-2.18">NCI-H358-R released</tspan></text>
<path d="M240.30,1203.80 L240.30,1049.00 L244.10,1049.00 L244.10,1089.00 L246.60,1098.30 L249.70,1108.60 L250.20,1119.00 L253.80,1125.20 L256.90,1131.40 L259.00,1136.60 L262.10,1142.80 L263.10,1148.00 L271.40,1152.10 L281.70,1159.30 L292.10,1164.50 L302.40,1169.70 L316.90,1174.80 L333.50,1181.00 L354.10,1185.20 L385.20,1189.30 L416.20,1195.50 L436.90,1198.60 L457.60,1201.70 L476.20,1204.20 L499.00,1208.00 L519.70,1212.10 L560.00,1217.30 L592.60,1221.60 L635.30,1231.20 L677.90,1240.80 L720.50,1248.20 L763.20,1258.90 L784.50,1265.30 L805.80,1275.90 L827.10,1288.70 L848.40,1301.50 L859.10,1312.20 L865.50,1325.00 L869.70,1344.10 L871.90,1363.30 L876.20,1382.50 L879.40,1393.20 L880.60,1394.00 L880.60,1203.80 Z" stroke="none" stroke-width="0" fill="#76777a"/>
<rect x="239.4" y="980.7" width="641.90" height="548.00" fill="none" stroke="#454547" stroke-width="1.35"/>
<line x1="239.40" y1="1203.80" x2="881.30" y2="1203.80" stroke="#1e1e1e" stroke-width="2.6"/>
<line x1="230.70" y1="980.70" x2="239.40" y2="980.70" stroke="#454547" stroke-width="1.6"/>
<text transform="translate(183.95 988.20) scale(1.0800 1)" font-size="24.4" fill="#231f20"><tspan x="-0.85">0.4</tspan></text>
<line x1="230.70" y1="1203.80" x2="239.40" y2="1203.80" stroke="#454547" stroke-width="1.6"/>
<text transform="translate(206.22 1211.30) scale(1.0800 1)" font-size="24.4" fill="#231f20"><tspan x="-0.85">0</tspan></text>
<line x1="230.70" y1="1427.70" x2="239.40" y2="1427.70" stroke="#454547" stroke-width="1.6"/>
<text transform="translate(168.80 1435.20) scale(1.0800 1)" font-size="24.4" fill="#231f20"><tspan x="-1.10">−0.4</tspan></text>
<line x1="239.40" y1="1528.70" x2="239.40" y2="1537.70" stroke="#454547" stroke-width="1.6"/>
<text transform="translate(233.01 1569.00) scale(1.0800 1)" font-size="24.4" fill="#231f20"><tspan x="-0.85">0</tspan></text>
<line x1="410.00" y1="1528.70" x2="410.00" y2="1537.70" stroke="#454547" stroke-width="1.6"/>
<text transform="translate(389.18 1569.00) scale(1.0800 1)" font-size="24.4" fill="#231f20"><tspan x="-1.22">200</tspan></text>
<line x1="581.30" y1="1528.70" x2="581.30" y2="1537.70" stroke="#454547" stroke-width="1.6"/>
<text transform="translate(560.09 1569.00) scale(1.0800 1)" font-size="24.4" fill="#231f20"><tspan x="-0.49">400</tspan></text>
<line x1="751.00" y1="1528.70" x2="751.00" y2="1537.70" stroke="#454547" stroke-width="1.6"/>
<text transform="translate(730.18 1569.00) scale(1.0800 1)" font-size="24.4" fill="#231f20"><tspan x="-1.22">600</tspan></text>
<text transform="translate(474.50 1615.00) scale(1.0266 1)" font-size="27.5" fill="#231f20"><tspan x="-2.20">Ranked drugs</tspan></text>
<text transform="rotate(-90 158.70 1254.70) translate(34.70 1254.70) scale(1.0498 1)" font-size="27.5" fill="#231f20"><tspan x="-2.20">Delta mean viability</tspan></text>
<text transform="translate(285.50 960.60) scale(1.0131 1)" font-size="27.5" fill="#231f20"><tspan x="-2.20">NCI-H358-R in sotorasib versus NCI-H358-P</tspan></text>
<line x1="595.70" y1="1134.70" x2="595.70" y2="1212.60" stroke="#1e1e1e" stroke-width="2.0"/>
<line x1="784.50" y1="1116.30" x2="784.50" y2="1264.50" stroke="#e2203c" stroke-width="2.2"/>
<line x1="864.30" y1="1056.90" x2="864.30" y2="1318.00" stroke="#325da8" stroke-width="2.2"/>
<path d="M867.8,1367.1 L874.3,1360.6 L880.8,1367.1 L874.3,1373.6 Z" fill="#325da8"/>
<text transform="translate(355.80 1165.30) scale(1.0407 1)" font-size="25.2" fill="#231f20"><tspan x="-2.02">Mean effect = −0.03</tspan></text>
<text transform="translate(413.50 1100.00) scale(1.0028 1)" font-size="25.2" fill="#e2203c"><tspan x="-2.02">PI3K/AKT pathway median = −0.11</tspan></text>
<text transform="translate(499.40 1339.50) scale(1.0275 1)" font-size="25.2" fill="#325da8"><tspan x="-0.50">TEAD inhibitors median = −0.20</tspan></text>
<text transform="translate(248.00 1419.00)" font-size="25.2" fill="#325da8"><tspan x="-0.50">TEAD inhibitors:NES = −1.83; FDR = 0.00046</tspan></text>
<text transform="translate(248.00 1457.70) scale(0.9886 1)" font-size="25.2" fill="#e2203c"><tspan x="-2.02">PI3K/AKT pathway:NES = −1.74; FDR = 0.0085</tspan></text>
<line x1="512.20" y1="1468.00" x2="512.20" y2="1498.00" stroke="#325da8" stroke-width="2.0"/>
<line x1="848.47" y1="1468.00" x2="848.47" y2="1498.00" stroke="#325da8" stroke-width="2.0"/>
<line x1="859.43" y1="1468.00" x2="859.43" y2="1498.00" stroke="#325da8" stroke-width="2.0"/>
<line x1="863.47" y1="1468.00" x2="863.47" y2="1498.00" stroke="#325da8" stroke-width="2.0"/>
<line x1="866.93" y1="1468.00" x2="866.93" y2="1498.00" stroke="#325da8" stroke-width="2.0"/>
<line x1="874.43" y1="1468.00" x2="874.43" y2="1498.00" stroke="#325da8" stroke-width="2.0"/>
<line x1="384.73" y1="1498.00" x2="384.73" y2="1527.50" stroke="#e2203c" stroke-width="2.0"/>
<line x1="398.57" y1="1498.00" x2="398.57" y2="1527.50" stroke="#e2203c" stroke-width="2.0"/>
<line x1="699.66" y1="1498.00" x2="699.66" y2="1527.50" stroke="#e2203c" stroke-width="2.0"/>
<line x1="709.47" y1="1498.00" x2="709.47" y2="1527.50" stroke="#e2203c" stroke-width="2.0"/>
<line x1="714.08" y1="1498.00" x2="714.08" y2="1527.50" stroke="#e2203c" stroke-width="2.0"/>
<line x1="731.96" y1="1498.00" x2="731.96" y2="1527.50" stroke="#e2203c" stroke-width="2.0"/>
<line x1="748.69" y1="1498.00" x2="748.69" y2="1527.50" stroke="#e2203c" stroke-width="2.0"/>
<line x1="765.99" y1="1498.00" x2="765.99" y2="1527.50" stroke="#e2203c" stroke-width="2.0"/>
<line x1="785.60" y1="1498.00" x2="785.60" y2="1527.50" stroke="#e2203c" stroke-width="2.0"/>
<line x1="790.79" y1="1498.00" x2="790.79" y2="1527.50" stroke="#e2203c" stroke-width="2.0"/>
<line x1="808.10" y1="1498.00" x2="808.10" y2="1527.50" stroke="#e2203c" stroke-width="2.0"/>
<line x1="811.56" y1="1498.00" x2="811.56" y2="1527.50" stroke="#e2203c" stroke-width="2.0"/>
<line x1="816.17" y1="1498.00" x2="816.17" y2="1527.50" stroke="#e2203c" stroke-width="2.0"/>
<line x1="839.25" y1="1498.00" x2="839.25" y2="1527.50" stroke="#e2203c" stroke-width="2.0"/>
<line x1="851.36" y1="1498.00" x2="851.36" y2="1527.50" stroke="#e2203c" stroke-width="2.0"/>
<line x1="855.40" y1="1498.00" x2="855.40" y2="1527.50" stroke="#e2203c" stroke-width="2.0"/>
<line x1="876.74" y1="1498.00" x2="876.74" y2="1527.50" stroke="#e2203c" stroke-width="2.0"/>
<path d="M1071.80,1202.30 L1071.80,1068.80 L1074.90,1068.80 L1074.90,1112.90 L1077.00,1123.50 L1081.30,1133.10 L1087.70,1139.50 L1094.10,1145.90 L1102.60,1155.50 L1104.80,1157.70 L1115.40,1163.00 L1126.10,1167.20 L1136.70,1171.50 L1155.90,1175.80 L1187.90,1183.20 L1219.90,1189.60 L1251.90,1195.00 L1273.20,1197.10 L1294.50,1200.30 L1315.80,1202.80 L1337.10,1205.60 L1369.10,1209.90 L1400.00,1214.10 L1431.40,1219.00 L1472.80,1226.20 L1514.10,1231.40 L1555.50,1239.70 L1596.90,1247.90 L1617.60,1254.10 L1638.30,1262.40 L1659.00,1272.80 L1679.70,1289.30 L1690.00,1305.90 L1696.20,1318.30 L1700.40,1339.00 L1704.50,1365.90 L1707.60,1396.90 L1709.70,1446.60 L1711.20,1446.60 L1711.20,1202.30 Z" stroke="none" stroke-width="0" fill="#76777a"/>
<rect x="1070.9" y="982.0" width="641.00" height="548.00" fill="none" stroke="#454547" stroke-width="1.35"/>
<line x1="1070.90" y1="1202.30" x2="1711.90" y2="1202.30" stroke="#1e1e1e" stroke-width="2.6"/>
<line x1="1062.20" y1="982.00" x2="1070.90" y2="982.00" stroke="#454547" stroke-width="1.6"/>
<text transform="translate(1015.45 989.50) scale(1.0800 1)" font-size="24.4" fill="#231f20"><tspan x="-0.85">0.4</tspan></text>
<line x1="1062.20" y1="1202.30" x2="1070.90" y2="1202.30" stroke="#454547" stroke-width="1.6"/>
<text transform="translate(1037.72 1209.80) scale(1.0800 1)" font-size="24.4" fill="#231f20"><tspan x="-0.85">0</tspan></text>
<line x1="1062.20" y1="1424.30" x2="1070.90" y2="1424.30" stroke="#454547" stroke-width="1.6"/>
<text transform="translate(1000.30 1431.80) scale(1.0800 1)" font-size="24.4" fill="#231f20"><tspan x="-1.10">−0.4</tspan></text>
<line x1="1070.90" y1="1530.00" x2="1070.90" y2="1539.00" stroke="#454547" stroke-width="1.6"/>
<text transform="translate(1064.51 1570.30) scale(1.0800 1)" font-size="24.4" fill="#231f20"><tspan x="-0.85">0</tspan></text>
<line x1="1239.70" y1="1530.00" x2="1239.70" y2="1539.00" stroke="#454547" stroke-width="1.6"/>
<text transform="translate(1218.88 1570.30) scale(1.0800 1)" font-size="24.4" fill="#231f20"><tspan x="-1.22">200</tspan></text>
<line x1="1407.90" y1="1530.00" x2="1407.90" y2="1539.00" stroke="#454547" stroke-width="1.6"/>
<text transform="translate(1386.69 1570.30) scale(1.0800 1)" font-size="24.4" fill="#231f20"><tspan x="-0.49">400</tspan></text>
<line x1="1576.00" y1="1530.00" x2="1576.00" y2="1539.00" stroke="#454547" stroke-width="1.6"/>
<text transform="translate(1555.18 1570.30) scale(1.0800 1)" font-size="24.4" fill="#231f20"><tspan x="-1.22">600</tspan></text>
<text transform="translate(1304.40 1615.60) scale(1.0320 1)" font-size="27.5" fill="#231f20"><tspan x="-2.20">Ranked drugs</tspan></text>
<text transform="rotate(-90 987.30 1256.00) translate(863.30 1256.00) scale(1.0498 1)" font-size="27.5" fill="#231f20"><tspan x="-2.20">Delta mean viability</tspan></text>
<text transform="translate(1133.90 959.50) scale(1.0083 1)" font-size="27.5" fill="#231f20"><tspan x="-2.20">NCI-H23-R in sotorasib versus NCI-H23-P</tspan></text>
<line x1="1424.00" y1="1131.20" x2="1424.00" y2="1207.50" stroke="#1e1e1e" stroke-width="2.0"/>
<line x1="1679.30" y1="1057.80" x2="1679.30" y2="1289.30" stroke="#e2203c" stroke-width="2.2"/>
<line x1="1693.50" y1="1115.60" x2="1693.50" y2="1312.10" stroke="#325da8" stroke-width="2.2"/>
<path d="M1690.3,1317.0 L1696.8,1310.5 L1703.3,1317.0 L1696.8,1323.5 Z" fill="#325da8"/>
<text transform="translate(1184.00 1167.00) scale(1.0461 1)" font-size="25.2" fill="#231f20"><tspan x="-2.02">Mean effect = −0.03</tspan></text>
<text transform="translate(1290.00 1044.50) scale(1.0105 1)" font-size="25.2" fill="#e2203c"><tspan x="-2.02">PI3K/AKT pathway median = −0.16</tspan></text>
<text transform="translate(1327.50 1336.40) scale(1.0235 1)" font-size="25.2" fill="#325da8"><tspan x="-0.50">TEAD inhibitors median = −0.20</tspan></text>
<text transform="translate(1077.20 1419.00) scale(0.9643 1)" font-size="25.2" fill="#325da8"><tspan x="-0.50">TEAD inhibitors:NES = −1.72; FDR = 0.01</tspan></text>
<text transform="translate(1077.20 1456.60) scale(0.9972 1)" font-size="25.2" fill="#e2203c"><tspan x="-2.02">PI3K/AKT pathway:NES = −1.97; FDR = 0.00046</tspan></text>
<line x1="1207.86" y1="1470.50" x2="1207.86" y2="1499.40" stroke="#325da8" stroke-width="2.0"/>
<line x1="1546.01" y1="1470.50" x2="1546.01" y2="1499.40" stroke="#325da8" stroke-width="2.0"/>
<line x1="1690.52" y1="1470.50" x2="1690.52" y2="1499.40" stroke="#325da8" stroke-width="2.0"/>
<line x1="1695.14" y1="1470.50" x2="1695.14" y2="1499.40" stroke="#325da8" stroke-width="2.0"/>
<line x1="1697.46" y1="1470.50" x2="1697.46" y2="1499.40" stroke="#325da8" stroke-width="2.0"/>
<line x1="1699.77" y1="1470.50" x2="1699.77" y2="1499.40" stroke="#325da8" stroke-width="2.0"/>
<line x1="1702.08" y1="1470.50" x2="1702.08" y2="1499.40" stroke="#325da8" stroke-width="2.0"/>
<line x1="1452.37" y1="1499.40" x2="1452.37" y2="1530.00" stroke="#e2203c" stroke-width="2.0"/>
<line x1="1529.25" y1="1499.40" x2="1529.25" y2="1530.00" stroke="#e2203c" stroke-width="2.0"/>
<line x1="1536.18" y1="1499.40" x2="1536.18" y2="1530.00" stroke="#e2203c" stroke-width="2.0"/>
<line x1="1544.28" y1="1499.40" x2="1544.28" y2="1530.00" stroke="#e2203c" stroke-width="2.0"/>
<line x1="1600.35" y1="1499.40" x2="1600.35" y2="1530.00" stroke="#e2203c" stroke-width="2.0"/>
<line x1="1627.51" y1="1499.40" x2="1627.51" y2="1530.00" stroke="#e2203c" stroke-width="2.0"/>
<line x1="1644.86" y1="1499.40" x2="1644.86" y2="1530.00" stroke="#e2203c" stroke-width="2.0"/>
<line x1="1662.20" y1="1499.40" x2="1662.20" y2="1530.00" stroke="#e2203c" stroke-width="2.0"/>
<line x1="1678.96" y1="1499.40" x2="1678.96" y2="1530.00" stroke="#e2203c" stroke-width="2.0"/>
<line x1="1689.36" y1="1499.40" x2="1689.36" y2="1530.00" stroke="#e2203c" stroke-width="2.0"/>
<line x1="1692.25" y1="1499.40" x2="1692.25" y2="1530.00" stroke="#e2203c" stroke-width="2.0"/>
<line x1="1693.41" y1="1499.40" x2="1693.41" y2="1530.00" stroke="#e2203c" stroke-width="2.0"/>
<line x1="1703.24" y1="1499.40" x2="1703.24" y2="1530.00" stroke="#e2203c" stroke-width="2.0"/>
<line x1="1705.55" y1="1499.40" x2="1705.55" y2="1530.00" stroke="#e2203c" stroke-width="2.0"/>
<line x1="1707.28" y1="1499.40" x2="1707.28" y2="1530.00" stroke="#e2203c" stroke-width="2.0"/>
<line x1="1709.60" y1="1499.40" x2="1709.60" y2="1530.00" stroke="#e2203c" stroke-width="2.0"/>
<text transform="translate(255.20 1761.60) scale(1.0280 1)" font-size="27.2" fill="#231f20"><tspan x="0.00">ATAC-seq differential peaks: NCI-H358-R versus NCI-358-P</tspan></text>
<rect x="580.90" y="1812.00" width="448.22" height="36.00" fill="#58585a"/>
<line x1="549.80" y1="1830.00" x2="558.60" y2="1830.00" stroke="#454547" stroke-width="1.6"/>
<text transform="translate(150.10 1838.00) scale(0.9523 1)" font-size="26.5" fill="#231f20"><tspan x="-2.12">HALLMARK_UV_RESPONSE_DN</tspan></text>
<rect x="580.90" y="1852.70" width="370.39" height="36.00" fill="#58585a"/>
<line x1="549.80" y1="1870.70" x2="558.60" y2="1870.70" stroke="#454547" stroke-width="1.6"/>
<text transform="translate(331.70 1878.70) scale(0.9696 1)" font-size="26.5" fill="#231f20"><tspan x="-2.12">HALLMARK_EMT</tspan></text>
<rect x="580.90" y="1893.40" width="273.79" height="36.00" fill="#58585a"/>
<line x1="549.80" y1="1911.40" x2="558.60" y2="1911.40" stroke="#454547" stroke-width="1.6"/>
<text transform="translate(211.60 1919.40) scale(0.9757 1)" font-size="26.5" fill="#231f20"><tspan x="-2.12">HALLMARK_MYOGENESIS</tspan></text>
<rect x="580.90" y="1934.10" width="226.87" height="36.00" fill="#58585a"/>
<line x1="549.80" y1="1952.10" x2="558.60" y2="1952.10" stroke="#454547" stroke-width="1.6"/>
<text transform="translate(267.30 1960.10) scale(0.9872 1)" font-size="26.5" fill="#231f20"><tspan x="-0.53">YAP/TAZ_SIGNATURE</tspan></text>
<rect x="580.90" y="1974.80" width="196.51" height="36.00" fill="#58585a"/>
<line x1="549.80" y1="1992.80" x2="558.60" y2="1992.80" stroke="#454547" stroke-width="1.6"/>
<text transform="translate(1.80 2000.80) scale(0.9453 1)" font-size="26.5" fill="#231f20"><tspan x="-2.12">HALLMARK_ESTROGEN_RESPONSE_EARLY</tspan></text>
<rect x="580.90" y="2015.50" width="140.76" height="36.00" fill="#58585a"/>
<line x1="549.80" y1="2033.50" x2="558.60" y2="2033.50" stroke="#454547" stroke-width="1.6"/>
<text transform="translate(268.00 2041.50) scale(0.9813 1)" font-size="26.5" fill="#231f20"><tspan x="-2.12">HALLMARK_HYPOXIA</tspan></text>
<line x1="558.60" y1="1805.60" x2="558.60" y2="2059.50" stroke="#454547" stroke-width="1.6"/>
<line x1="558.60" y1="2059.50" x2="1050.80" y2="2059.50" stroke="#454547" stroke-width="1.6"/>
<line x1="580.90" y1="2059.50" x2="580.90" y2="2071.50" stroke="#454547" stroke-width="1.5"/>
<text transform="translate(574.51 2101.40) scale(1.0800 1)" font-size="24.4" fill="#231f20"><tspan x="-0.85">0</tspan></text>
<line x1="691.30" y1="2059.50" x2="691.30" y2="2071.50" stroke="#454547" stroke-width="1.5"/>
<text transform="translate(685.24 2101.40) scale(1.0800 1)" font-size="24.4" fill="#231f20"><tspan x="-1.22">2</tspan></text>
<line x1="801.70" y1="2059.50" x2="801.70" y2="2071.50" stroke="#454547" stroke-width="1.5"/>
<text transform="translate(794.98 2101.40) scale(1.0800 1)" font-size="24.4" fill="#231f20"><tspan x="-0.49">4</tspan></text>
<line x1="912.10" y1="2059.50" x2="912.10" y2="2071.50" stroke="#454547" stroke-width="1.5"/>
<text transform="translate(905.97 2101.40) scale(1.0800 1)" font-size="24.4" fill="#231f20"><tspan x="-1.22">6</tspan></text>
<line x1="1022.50" y1="2059.50" x2="1022.50" y2="2071.50" stroke="#454547" stroke-width="1.5"/>
<text transform="translate(1016.24 2101.40) scale(1.0800 1)" font-size="24.4" fill="#231f20"><tspan x="-0.98">8</tspan></text>
<text transform="translate(773.90 2152.90) scale(1.0385 1)" font-size="27.5" fill="#231f20"><tspan x="-1.24">−log</tspan><tspan x="51.52" dy="8.25" font-size="19.25">10</tspan><tspan x="72.93" dy="-8.25">[</tspan><tspan x="80.57" font-style="italic">P</tspan><tspan x="98.92" dy="8.25" font-size="19.25">adj</tspan><tspan x="124.61" dy="-8.25">]</tspan></text>
<text transform="translate(255.20 2254.50) scale(1.0224 1)" font-size="27.2" fill="#231f20"><tspan x="0.00">ATAC-seq differential peaks: NCI-H23-R versus NCI-H23-P</tspan></text>
<rect x="580.90" y="2298.50" width="448.65" height="36.30" fill="#58585a"/>
<line x1="549.80" y1="2316.65" x2="558.60" y2="2316.65" stroke="#454547" stroke-width="1.6"/>
<text transform="translate(155.50 2324.65) scale(0.9734 1)" font-size="26.5" fill="#231f20"><tspan x="-2.12">HALLMARK_MITOTIC_SPINDLE</tspan></text>
<rect x="580.90" y="2339.20" width="402.93" height="36.30" fill="#58585a"/>
<line x1="549.80" y1="2357.35" x2="558.60" y2="2357.35" stroke="#454547" stroke-width="1.6"/>
<text transform="translate(267.30 2365.35) scale(0.9872 1)" font-size="26.5" fill="#231f20"><tspan x="-0.53">YAP/TAZ_SIGNATURE</tspan></text>
<rect x="580.90" y="2379.90" width="317.44" height="36.30" fill="#58585a"/>
<line x1="549.80" y1="2398.05" x2="558.60" y2="2398.05" stroke="#454547" stroke-width="1.6"/>
<text transform="translate(331.70 2406.05) scale(0.9696 1)" font-size="26.5" fill="#231f20"><tspan x="-2.12">HALLMARK_EMT</tspan></text>
<rect x="580.90" y="2420.60" width="241.25" height="36.30" fill="#58585a"/>
<line x1="549.80" y1="2438.75" x2="558.60" y2="2438.75" stroke="#454547" stroke-width="1.6"/>
<text transform="translate(150.10 2446.75) scale(0.9523 1)" font-size="26.5" fill="#231f20"><tspan x="-2.12">HALLMARK_UV_RESPONSE_DN</tspan></text>
<rect x="580.90" y="2461.30" width="230.25" height="36.30" fill="#58585a"/>
<line x1="549.80" y1="2479.45" x2="558.60" y2="2479.45" stroke="#454547" stroke-width="1.6"/>
<text transform="translate(146.50 2487.45) scale(0.9827 1)" font-size="26.5" fill="#231f20"><tspan x="-2.12">HALLMARK_APICAL_JUNCTION</tspan></text>
<rect x="580.90" y="2502.00" width="230.25" height="36.30" fill="#58585a"/>
<line x1="549.80" y1="2520.15" x2="558.60" y2="2520.15" stroke="#454547" stroke-width="1.6"/>
<text transform="translate(144.00 2528.15) scale(0.9783 1)" font-size="26.5" fill="#231f20"><tspan x="-2.12">HALLMARK_G2M_CHECKPOINT</tspan></text>
<line x1="558.60" y1="2291.70" x2="558.60" y2="2552.40" stroke="#454547" stroke-width="1.6"/>
<line x1="558.60" y1="2552.40" x2="1050.80" y2="2552.40" stroke="#454547" stroke-width="1.6"/>
<line x1="580.90" y1="2552.40" x2="580.90" y2="2564.40" stroke="#454547" stroke-width="1.5"/>
<text transform="translate(574.51 2594.40) scale(1.0800 1)" font-size="24.4" fill="#231f20"><tspan x="-0.85">0</tspan></text>
<line x1="750.20" y1="2552.40" x2="750.20" y2="2564.40" stroke="#454547" stroke-width="1.5"/>
<text transform="translate(744.14 2594.40) scale(1.0800 1)" font-size="24.4" fill="#231f20"><tspan x="-1.22">2</tspan></text>
<line x1="919.50" y1="2552.40" x2="919.50" y2="2564.40" stroke="#454547" stroke-width="1.5"/>
<text transform="translate(912.78 2594.40) scale(1.0800 1)" font-size="24.4" fill="#231f20"><tspan x="-0.49">4</tspan></text>
<text transform="translate(736.70 2645.80) scale(1.0485 1)" font-size="27.5" fill="#231f20"><tspan x="-1.24">−log</tspan><tspan x="51.52" dy="8.25" font-size="19.25">10</tspan><tspan x="72.93" dy="-8.25">[</tspan><tspan x="80.57" font-style="italic">P</tspan><tspan x="98.92" dy="8.25" font-size="19.25">adj</tspan><tspan x="124.61" dy="-8.25">]</tspan></text>
<defs>
<linearGradient id="gbar" x1="0" y1="0" x2="1" y2="0">
<stop offset="0" stop-color="#d8898a"/><stop offset="0.04" stop-color="#dda2a8"/><stop offset="0.15" stop-color="#e3bcc7"/>
<stop offset="0.32" stop-color="#e4cbda"/><stop offset="0.45" stop-color="#e2d3e3"/><stop offset="0.8" stop-color="#dfd0e2"/>
<stop offset="0.9" stop-color="#d3c4dc"/><stop offset="0.96" stop-color="#bfafd2"/><stop offset="0.99" stop-color="#9b8bc2"/><stop offset="1" stop-color="#6f60ab"/></linearGradient>
<linearGradient id="gbar2" x1="0" y1="0" x2="1" y2="0">
<stop offset="0" stop-color="#d67e7b"/><stop offset="0.02" stop-color="#dc9697"/><stop offset="0.08" stop-color="#e1abb2"/>
<stop offset="0.2" stop-color="#e4b8c2"/><stop offset="0.335" stop-color="#e6c1cb"/><stop offset="0.34" stop-color="#e3d3e3"/>
<stop offset="0.67" stop-color="#e2d2e3"/><stop offset="0.8" stop-color="#d5c5dd"/><stop offset="0.92" stop-color="#c0afd2"/>
<stop offset="0.97" stop-color="#ab9bc8"/><stop offset="1" stop-color="#9484bd"/></linearGradient>
<linearGradient id="cbar1" x1="0" y1="0" x2="0" y2="1">
<stop offset="0" stop-color="#2c4a9a"/><stop offset="0.2" stop-color="#4b4c9c"/><stop offset="0.4" stop-color="#8d78b0"/>
<stop offset="0.6" stop-color="#c7b3d1"/><stop offset="0.66" stop-color="#e6d6e3"/><stop offset="0.78" stop-color="#e3b8bd"/>
<stop offset="0.9" stop-color="#da9593"/><stop offset="1" stop-color="#cf6c66"/></linearGradient>
<linearGradient id="cbar2" x1="0" y1="0" x2="0" y2="1">
<stop offset="0" stop-color="#52509c"/><stop offset="0.2" stop-color="#7f6fae"/><stop offset="0.35" stop-color="#b7a5cc"/>
<stop offset="0.45" stop-color="#e4d5e3"/><stop offset="0.6" stop-color="#e2b4b9"/><stop offset="0.8" stop-color="#d47b78"/>
<stop offset="1" stop-color="#c4242c"/></linearGradient>
</defs>
<text transform="translate(1153.10 1700.20) scale(1.0145 1)" font-size="27.5" fill="#231f20"><tspan x="-1.79">mRNA-seq: YAP/TAZ target</tspan></text>
<rect x="1155.6" y="1715.4" width="530.40" height="350.50" fill="none" stroke="#454547" stroke-width="1.35"/>
<line x1="1148.20" y1="1719.50" x2="1155.60" y2="1719.50" stroke="#454547" stroke-width="1.6"/>
<text transform="translate(1101.19 1727.80) scale(1.0600 1)" font-size="24.4" fill="#231f20"><tspan x="-0.85">0.6</tspan></text>
<line x1="1148.20" y1="1801.80" x2="1155.60" y2="1801.80" stroke="#454547" stroke-width="1.6"/>
<text transform="translate(1100.80 1810.10) scale(1.0600 1)" font-size="24.4" fill="#231f20"><tspan x="-0.85">0.4</tspan></text>
<line x1="1148.20" y1="1884.10" x2="1155.60" y2="1884.10" stroke="#454547" stroke-width="1.6"/>
<text transform="translate(1101.32 1892.40) scale(1.0600 1)" font-size="24.4" fill="#231f20"><tspan x="-0.85">0.2</tspan></text>
<line x1="1148.20" y1="1966.40" x2="1155.60" y2="1966.40" stroke="#454547" stroke-width="1.6"/>
<text transform="translate(1122.66 1974.70) scale(1.0600 1)" font-size="24.4" fill="#231f20"><tspan x="-0.85">0</tspan></text>
<line x1="1148.20" y1="2048.70" x2="1155.60" y2="2048.70" stroke="#454547" stroke-width="1.6"/>
<text transform="translate(1086.45 2057.00) scale(1.0600 1)" font-size="24.4" fill="#231f20"><tspan x="-1.10">−0.2</tspan></text>
<line x1="1155.60" y1="2065.90" x2="1155.60" y2="2073.40" stroke="#454547" stroke-width="1.6"/>
<text transform="translate(1149.45 2101.20) scale(1.0400 1)" font-size="24.4" fill="#231f20"><tspan x="-0.85">0</tspan></text>
<line x1="1238.77" y1="2065.90" x2="1238.77" y2="2073.40" stroke="#454547" stroke-width="1.6"/>
<text transform="translate(1207.94 2101.20) scale(1.0400 1)" font-size="24.4" fill="#231f20"><tspan x="-0.85">3,000</tspan></text>
<line x1="1321.94" y1="2065.90" x2="1321.94" y2="2073.40" stroke="#454547" stroke-width="1.6"/>
<text transform="translate(1291.30 2101.20) scale(1.0400 1)" font-size="24.4" fill="#231f20"><tspan x="-1.22">6,000</tspan></text>
<line x1="1405.11" y1="2065.90" x2="1405.11" y2="2073.40" stroke="#454547" stroke-width="1.6"/>
<text transform="translate(1374.41 2101.20) scale(1.0400 1)" font-size="24.4" fill="#231f20"><tspan x="-1.10">9,000</tspan></text>
<line x1="1488.28" y1="2065.90" x2="1488.28" y2="2073.40" stroke="#454547" stroke-width="1.6"/>
<text transform="translate(1450.85 2101.20) scale(1.0400 1)" font-size="24.4" fill="#231f20"><tspan x="-1.83">12,000</tspan></text>
<line x1="1571.45" y1="2065.90" x2="1571.45" y2="2073.40" stroke="#454547" stroke-width="1.6"/>
<text transform="translate(1534.02 2101.20) scale(1.0400 1)" font-size="24.4" fill="#231f20"><tspan x="-1.83">15,000</tspan></text>
<line x1="1654.62" y1="2065.90" x2="1654.62" y2="2073.40" stroke="#454547" stroke-width="1.6"/>
<text transform="translate(1617.19 2101.20) scale(1.0400 1)" font-size="24.4" fill="#231f20"><tspan x="-1.83">18,000</tspan></text>
<text transform="translate(1333.00 2146.80) scale(1.0074 1)" font-size="27.5" fill="#231f20"><tspan x="-2.20">Ranked genes</tspan></text>
<rect x="1156.40" y="1967.30" width="528.80" height="15.50" fill="url(#gbar)"/>
<line x1="1155.60" y1="1959.10" x2="1686.00" y2="1959.10" stroke="#231f20" stroke-width="1.8"/>
<path d="M1156.80,1951.20V1964.70M1158.50,1951.20V1964.70M1160.20,1951.20V1964.70M1163.50,1951.20V1964.70M1166.10,1951.20V1964.70M1167.80,1951.20V1964.70M1169.50,1951.20V1964.70M1171.20,1951.20V1964.70M1172.87,1951.20V1964.70M1174.53,1951.20V1964.70M1176.20,1951.20V1964.70M1179.60,1951.20V1964.70M1180.96,1951.20V1964.70M1182.32,1951.20V1964.70M1183.68,1951.20V1964.70M1185.04,1951.20V1964.70M1186.40,1951.20V1964.70M1188.10,1951.20V1964.70M1189.80,1951.20V1964.70M1195.70,1951.20V1964.70M1197.10,1951.20V1964.70M1198.50,1951.20V1964.70M1199.90,1951.20V1964.70M1201.60,1951.20V1964.70M1208.40,1951.20V1964.70M1210.10,1951.20V1964.70M1210.90,1951.20V1964.70M1212.21,1951.20V1964.70M1213.52,1951.20V1964.70M1214.83,1951.20V1964.70M1216.14,1951.20V1964.70M1217.45,1951.20V1964.70M1218.75,1951.20V1964.70M1220.06,1951.20V1964.70M1221.37,1951.20V1964.70M1222.68,1951.20V1964.70M1223.99,1951.20V1964.70M1225.30,1951.20V1964.70M1233.00,1951.20V1964.70M1234.65,1951.20V1964.70M1236.30,1951.20V1964.70M1238.00,1951.20V1964.70M1244.00,1951.20V1964.70M1245.40,1951.20V1964.70M1246.80,1951.20V1964.70M1248.20,1951.20V1964.70M1257.50,1951.20V1964.70M1260.00,1951.20V1964.70M1260.90,1951.20V1964.70M1262.34,1951.20V1964.70M1263.79,1951.20V1964.70M1265.23,1951.20V1964.70M1266.67,1951.20V1964.70M1268.11,1951.20V1964.70M1269.56,1951.20V1964.70M1271.00,1951.20V1964.70M1274.40,1951.20V1964.70M1276.10,1951.20V1964.70M1277.80,1951.20V1964.70M1280.40,1951.20V1964.70M1283.70,1951.20V1964.70M1291.40,1951.20V1964.70M1293.90,1951.20V1964.70M1295.60,1951.20V1964.70M1297.30,1951.20V1964.70M1303.20,1951.20V1964.70M1304.60,1951.20V1964.70M1306.00,1951.20V1964.70M1307.40,1951.20V1964.70M1310.00,1951.20V1964.70M1313.40,1951.20V1964.70M1314.81,1951.20V1964.70M1316.22,1951.20V1964.70M1317.63,1951.20V1964.70M1319.04,1951.20V1964.70M1320.46,1951.20V1964.70M1321.87,1951.20V1964.70M1323.28,1951.20V1964.70M1324.69,1951.20V1964.70M1326.10,1951.20V1964.70M1327.80,1951.20V1964.70M1329.50,1951.20V1964.70M1331.20,1951.20V1964.70M1332.80,1951.20V1964.70M1340.40,1951.20V1964.70M1342.10,1951.20V1964.70M1344.70,1951.20V1964.70M1350.60,1951.20V1964.70M1352.12,1951.20V1964.70M1353.64,1951.20V1964.70M1355.16,1951.20V1964.70M1356.68,1951.20V1964.70M1358.20,1951.20V1964.70M1367.50,1951.20V1964.70M1370.10,1951.20V1964.70M1371.80,1951.20V1964.70M1375.20,1951.20V1964.70M1377.70,1951.20V1964.70M1380.20,1951.20V1964.70M1383.60,1951.20V1964.70M1387.00,1951.20V1964.70M1394.60,1951.20V1964.70M1396.30,1951.20V1964.70M1398.00,1951.20V1964.70M1399.70,1951.20V1964.70M1413.30,1951.20V1964.70M1415.00,1951.20V1964.70M1424.00,1951.20V1964.70M1426.70,1951.20V1964.70M1428.40,1951.20V1964.70M1430.70,1951.20V1964.70M1486.40,1951.20V1964.70M1487.72,1951.20V1964.70M1489.03,1951.20V1964.70M1490.35,1951.20V1964.70M1491.67,1951.20V1964.70M1492.98,1951.20V1964.70M1494.30,1951.20V1964.70M1509.20,1951.20V1964.70M1512.70,1951.20V1964.70M1527.60,1951.20V1964.70M1540.30,1951.20V1964.70M1560.60,1951.20V1964.70M1565.40,1951.20V1964.70M1574.10,1951.20V1964.70M1580.30,1951.20V1964.70M1594.70,1951.20V1964.70M1599.60,1951.20V1964.70M1600.90,1951.20V1964.70M1602.20,1951.20V1964.70M1607.50,1951.20V1964.70M1613.30,1951.20V1964.70M1623.80,1951.20V1964.70M1625.60,1951.20V1964.70M1643.10,1951.20V1964.70M1670.40,1951.20V1964.70M1676.50,1951.20V1964.70" stroke="#231f20" stroke-width="1.4" fill="none"/>
<path d="M1155.60,1967.20 L1155.60,1967.20 L1156.80,1960.00 L1158.50,1935.00 L1158.50,1919.24 L1160.20,1920.60 L1160.20,1919.72 L1163.50,1922.36 L1163.50,1899.92 L1166.10,1902.00 L1166.10,1902.00 L1167.80,1903.70 L1167.80,1892.59 L1169.50,1893.95 L1169.50,1893.84 L1171.20,1895.20 L1171.20,1885.94 L1172.87,1887.27 L1172.87,1870.67 L1174.53,1872.00 L1174.53,1848.16 L1176.20,1849.50 L1176.20,1849.50 L1179.60,1853.26 L1179.60,1834.52 L1180.96,1835.61 L1180.96,1825.32 L1182.32,1826.41 L1182.32,1821.60 L1183.68,1822.69 L1183.68,1819.21 L1185.04,1820.30 L1185.04,1820.30 L1186.40,1821.88 L1186.40,1813.46 L1188.10,1814.82 L1188.10,1805.84 L1189.80,1807.20 L1189.80,1807.20 L1195.70,1812.30 L1195.70,1802.45 L1197.10,1803.57 L1197.10,1793.72 L1198.50,1794.84 L1198.50,1790.33 L1199.90,1791.45 L1199.90,1790.82 L1201.60,1792.18 L1201.60,1789.50 L1208.40,1794.94 L1208.40,1790.24 L1210.10,1791.60 L1210.10,1787.27 L1210.90,1787.91 L1210.90,1780.81 L1212.21,1781.86 L1212.21,1774.84 L1213.52,1775.89 L1213.52,1773.96 L1214.83,1775.01 L1214.83,1773.08 L1216.14,1774.13 L1216.14,1772.20 L1217.45,1773.25 L1217.45,1771.34 L1218.75,1772.38 L1218.75,1770.45 L1220.06,1771.50 L1220.06,1768.67 L1221.37,1769.72 L1221.37,1763.43 L1222.68,1764.48 L1222.68,1758.19 L1223.99,1759.24 L1223.99,1756.83 L1225.30,1757.87 L1225.30,1757.87 L1233.00,1764.35 L1233.00,1755.85 L1234.65,1757.17 L1234.65,1754.93 L1236.30,1756.25 L1236.30,1753.94 L1238.00,1755.30 L1238.00,1747.47 L1244.00,1752.27 L1244.00,1750.83 L1245.40,1751.95 L1245.40,1750.50 L1246.80,1751.62 L1246.80,1750.18 L1248.20,1751.30 L1248.20,1751.30 L1257.50,1759.13 L1257.50,1756.72 L1260.00,1758.72 L1260.00,1757.44 L1260.90,1758.16 L1260.90,1756.09 L1262.34,1757.25 L1262.34,1755.17 L1263.79,1756.33 L1263.79,1754.03 L1265.23,1755.18 L1265.23,1750.47 L1266.67,1751.62 L1266.67,1746.91 L1268.11,1748.06 L1268.11,1743.32 L1269.56,1744.48 L1269.56,1741.63 L1271.00,1742.78 L1271.00,1739.54 L1274.40,1742.26 L1274.40,1740.64 L1276.10,1742.00 L1276.10,1741.20 L1277.80,1742.56 L1277.80,1741.33 L1280.40,1743.41 L1280.40,1741.86 L1283.70,1744.50 L1283.70,1743.56 L1291.40,1749.72 L1291.40,1748.05 L1293.90,1750.05 L1293.90,1748.91 L1295.60,1750.27 L1295.60,1749.14 L1297.30,1750.50 L1297.30,1750.18 L1303.20,1754.90 L1303.20,1754.32 L1304.60,1755.44 L1304.60,1754.19 L1306.00,1755.31 L1306.00,1754.06 L1307.40,1755.18 L1307.40,1752.86 L1310.00,1754.94 L1310.00,1752.11 L1313.40,1754.83 L1313.40,1753.90 L1314.81,1755.03 L1314.81,1754.10 L1316.22,1755.23 L1316.22,1754.30 L1317.63,1755.43 L1317.63,1754.51 L1319.04,1755.63 L1319.04,1754.70 L1320.46,1755.84 L1320.46,1754.91 L1321.87,1756.04 L1321.87,1755.11 L1323.28,1756.24 L1323.28,1755.42 L1324.69,1756.55 L1324.69,1756.12 L1326.10,1757.25 L1326.10,1756.74 L1327.80,1758.10 L1327.80,1757.59 L1329.50,1758.95 L1329.50,1758.44 L1331.20,1759.80 L1331.20,1759.32 L1332.80,1760.60 L1332.80,1759.08 L1340.40,1765.16 L1340.40,1764.74 L1342.10,1766.10 L1342.10,1765.32 L1344.70,1767.40 L1344.70,1765.63 L1350.60,1770.35 L1350.60,1769.37 L1352.12,1770.59 L1352.12,1768.86 L1353.64,1770.07 L1353.64,1768.34 L1355.16,1769.56 L1355.16,1768.00 L1356.68,1769.22 L1356.68,1769.02 L1358.20,1770.23 L1358.20,1768.99 L1367.50,1776.43 L1367.50,1776.08 L1370.10,1778.16 L1370.10,1777.93 L1371.80,1779.29 L1371.80,1778.83 L1375.20,1781.55 L1375.20,1781.22 L1377.70,1783.22 L1377.70,1782.88 L1380.20,1784.88 L1380.20,1784.42 L1383.60,1787.14 L1383.60,1786.68 L1387.00,1789.40 L1387.00,1788.46 L1394.60,1794.54 L1394.60,1794.34 L1396.30,1795.70 L1396.30,1795.49 L1398.00,1796.85 L1398.00,1796.64 L1399.70,1798.00 L1399.70,1797.79 L1413.30,1808.67 L1413.30,1808.64 L1415.00,1810.00 L1415.00,1809.89 L1424.00,1817.09 L1424.00,1817.05 L1426.70,1819.21 L1426.70,1819.19 L1428.40,1820.55 L1428.40,1820.52 L1430.70,1822.36 L1430.70,1821.63 L1486.40,1866.19 L1486.40,1866.02 L1487.72,1867.07 L1487.72,1866.57 L1489.03,1867.61 L1489.03,1867.10 L1490.35,1868.16 L1490.35,1867.65 L1491.67,1868.70 L1491.67,1868.20 L1492.98,1869.24 L1492.98,1868.99 L1494.30,1870.04 L1494.30,1869.63 L1509.20,1881.55 L1509.20,1880.38 L1512.70,1883.18 L1512.70,1882.78 L1527.60,1894.70 L1527.60,1893.04 L1540.30,1903.20 L1540.30,1901.81 L1560.60,1918.05 L1560.60,1916.25 L1565.40,1920.09 L1565.40,1917.34 L1574.10,1924.30 L1574.10,1922.00 L1580.30,1926.96 L1580.30,1925.62 L1594.70,1937.14 L1594.70,1935.16 L1599.60,1939.08 L1599.60,1938.56 L1600.90,1939.60 L1600.90,1935.19 L1602.20,1936.23 L1602.20,1934.89 L1607.50,1939.13 L1607.50,1935.32 L1613.30,1939.96 L1613.30,1937.65 L1623.80,1946.05 L1623.80,1941.46 L1625.60,1942.90 L1625.60,1936.31 L1643.10,1950.31 L1643.10,1946.66 L1670.40,1968.50 L1670.40,1963.77 L1676.50,1968.65 L1677.30,1969.10 L1678.20,1960.00 L1685.50,1966.40" stroke="#12994a" stroke-width="3.2" fill="none" stroke-linejoin="round"/>
<text transform="translate(1161.50 2009.00)" font-size="25.5" fill="#231f20"><tspan x="-2.04">NCI-H358-R</tspan></text>
<text transform="translate(1544.57 2009.00)" font-size="25.5" fill="#231f20"><tspan x="-2.04">NCI-H358-P</tspan></text>
<text transform="translate(1393.60 1757.80) scale(0.9134 1)" font-size="25.5" fill="#231f20"><tspan x="-2.04">NES = 1.87; FDR = 2 × 10</tspan><tspan x="292.37" dy="-10.71" font-size="17.85">−5</tspan></text>
<rect x="1701.60" y="1824.10" width="32.40" height="161.80" fill="url(#cbar1)"/>
<line x1="1727.40" y1="1858.40" x2="1734.00" y2="1858.40" stroke="#3a3a3a" stroke-width="1.5"/>
<text transform="translate(1744.80 1864.50)" font-size="22.5" fill="#231f20"><tspan x="-1.69">10</tspan></text>
<line x1="1727.40" y1="1894.40" x2="1734.00" y2="1894.40" stroke="#3a3a3a" stroke-width="1.5"/>
<text transform="translate(1744.80 1900.50)" font-size="22.5" fill="#231f20"><tspan x="-0.90">5</tspan></text>
<line x1="1727.40" y1="1930.30" x2="1734.00" y2="1930.30" stroke="#3a3a3a" stroke-width="1.5"/>
<text transform="translate(1744.80 1936.40)" font-size="22.5" fill="#231f20"><tspan x="-0.79">0</tspan></text>
<line x1="1727.40" y1="1965.90" x2="1734.00" y2="1965.90" stroke="#3a3a3a" stroke-width="1.5"/>
<text transform="translate(1744.80 1972.00)" font-size="22.5" fill="#231f20"><tspan x="-1.01">−5</tspan></text>
<text transform="rotate(90 1788.60 1905.00) translate(1705.10 1905.00) scale(1.0864 1)" font-size="27.5" fill="#231f20"><tspan x="-1.93">[fold change]</tspan></text>
<text transform="rotate(90 1821.00 1903.00) translate(1798.64 1903.00)" font-size="27.5" fill="#231f20"><tspan x="-1.79">log</tspan><tspan x="34.91" dy="8.25" font-size="19.25">2</tspan></text>
<text transform="translate(1153.10 2226.60) scale(1.0145 1)" font-size="27.5" fill="#231f20"><tspan x="-1.79">mRNA-seq: YAP/TAZ target</tspan></text>
<rect x="1155.6" y="2242.3" width="530.40" height="349.50" fill="none" stroke="#454547" stroke-width="1.35"/>
<line x1="1148.20" y1="2253.25" x2="1155.60" y2="2253.25" stroke="#454547" stroke-width="1.6"/>
<text transform="translate(1086.83 2261.55) scale(1.0600 1)" font-size="24.4" fill="#231f20"><tspan x="-0.85">0.75</tspan></text>
<line x1="1148.20" y1="2338.00" x2="1155.60" y2="2338.00" stroke="#454547" stroke-width="1.6"/>
<text transform="translate(1086.70 2346.30) scale(1.0600 1)" font-size="24.4" fill="#231f20"><tspan x="-0.85">0.50</tspan></text>
<line x1="1148.20" y1="2422.75" x2="1155.60" y2="2422.75" stroke="#454547" stroke-width="1.6"/>
<text transform="translate(1086.83 2431.05) scale(1.0600 1)" font-size="24.4" fill="#231f20"><tspan x="-0.85">0.25</tspan></text>
<line x1="1148.20" y1="2507.50" x2="1155.60" y2="2507.50" stroke="#454547" stroke-width="1.6"/>
<text transform="translate(1122.66 2515.80) scale(1.0600 1)" font-size="24.4" fill="#231f20"><tspan x="-0.85">0</tspan></text>
<line x1="1155.60" y1="2591.80" x2="1155.60" y2="2599.30" stroke="#454547" stroke-width="1.6"/>
<text transform="translate(1149.45 2628.50) scale(1.0400 1)" font-size="24.4" fill="#231f20"><tspan x="-0.85">0</tspan></text>
<line x1="1243.83" y1="2591.80" x2="1243.83" y2="2599.30" stroke="#454547" stroke-width="1.6"/>
<text transform="translate(1213.00 2628.50) scale(1.0400 1)" font-size="24.4" fill="#231f20"><tspan x="-0.85">3,000</tspan></text>
<line x1="1332.06" y1="2591.80" x2="1332.06" y2="2599.30" stroke="#454547" stroke-width="1.6"/>
<text transform="translate(1301.42 2628.50) scale(1.0400 1)" font-size="24.4" fill="#231f20"><tspan x="-1.22">6,000</tspan></text>
<line x1="1420.29" y1="2591.80" x2="1420.29" y2="2599.30" stroke="#454547" stroke-width="1.6"/>
<text transform="translate(1389.59 2628.50) scale(1.0400 1)" font-size="24.4" fill="#231f20"><tspan x="-1.10">9,000</tspan></text>
<line x1="1508.52" y1="2591.80" x2="1508.52" y2="2599.30" stroke="#454547" stroke-width="1.6"/>
<text transform="translate(1471.09 2628.50) scale(1.0400 1)" font-size="24.4" fill="#231f20"><tspan x="-1.83">12,000</tspan></text>
<line x1="1596.75" y1="2591.80" x2="1596.75" y2="2599.30" stroke="#454547" stroke-width="1.6"/>
<text transform="translate(1559.32 2628.50) scale(1.0400 1)" font-size="24.4" fill="#231f20"><tspan x="-1.83">15,000</tspan></text>
<line x1="1684.98" y1="2591.80" x2="1684.98" y2="2599.30" stroke="#454547" stroke-width="1.6"/>
<text transform="translate(1647.55 2628.50) scale(1.0400 1)" font-size="24.4" fill="#231f20"><tspan x="-1.83">18,000</tspan></text>
<text transform="translate(1333.00 2676.00) scale(1.0074 1)" font-size="27.5" fill="#231f20"><tspan x="-2.20">Ranked genes</tspan></text>
<rect x="1156.40" y="2508.40" width="528.80" height="15.30" fill="url(#gbar2)"/>
<line x1="1155.60" y1="2500.70" x2="1686.00" y2="2500.70" stroke="#231f20" stroke-width="1.8"/>
<path d="M1155.90,2494.40V2506.20M1157.28,2494.40V2506.20M1158.65,2494.40V2506.20M1160.03,2494.40V2506.20M1161.40,2494.40V2506.20M1162.78,2494.40V2506.20M1164.15,2494.40V2506.20M1165.53,2494.40V2506.20M1166.90,2494.40V2506.20M1167.80,2494.40V2506.20M1169.50,2494.40V2506.20M1170.88,2494.40V2506.20M1172.25,2494.40V2506.20M1173.62,2494.40V2506.20M1175.00,2494.40V2506.20M1176.38,2494.40V2506.20M1177.75,2494.40V2506.20M1179.12,2494.40V2506.20M1180.50,2494.40V2506.20M1181.30,2494.40V2506.20M1183.00,2494.40V2506.20M1183.90,2494.40V2506.20M1185.24,2494.40V2506.20M1186.58,2494.40V2506.20M1187.92,2494.40V2506.20M1189.26,2494.40V2506.20M1190.60,2494.40V2506.20M1194.90,2494.40V2506.20M1197.40,2494.40V2506.20M1198.78,2494.40V2506.20M1200.15,2494.40V2506.20M1201.53,2494.40V2506.20M1202.90,2494.40V2506.20M1204.28,2494.40V2506.20M1205.65,2494.40V2506.20M1207.03,2494.40V2506.20M1208.40,2494.40V2506.20M1210.10,2494.40V2506.20M1215.20,2494.40V2506.20M1216.72,2494.40V2506.20M1218.24,2494.40V2506.20M1219.76,2494.40V2506.20M1221.28,2494.40V2506.20M1222.80,2494.40V2506.20M1227.00,2494.40V2506.20M1229.60,2494.40V2506.20M1230.40,2494.40V2506.20M1231.88,2494.40V2506.20M1233.35,2494.40V2506.20M1234.83,2494.40V2506.20M1236.30,2494.40V2506.20M1237.20,2494.40V2506.20M1239.70,2494.40V2506.20M1241.40,2494.40V2506.20M1250.70,2494.40V2506.20M1252.40,2494.40V2506.20M1255.80,2494.40V2506.20M1265.10,2494.40V2506.20M1266.80,2494.40V2506.20M1268.50,2494.40V2506.20M1270.20,2494.40V2506.20M1271.67,2494.40V2506.20M1273.15,2494.40V2506.20M1274.62,2494.40V2506.20M1276.10,2494.40V2506.20M1277.80,2494.40V2506.20M1279.28,2494.40V2506.20M1280.75,2494.40V2506.20M1282.22,2494.40V2506.20M1283.70,2494.40V2506.20M1288.00,2494.40V2506.20M1289.70,2494.40V2506.20M1292.20,2494.40V2506.20M1294.70,2494.40V2506.20M1297.30,2494.40V2506.20M1299.00,2494.40V2506.20M1303.20,2494.40V2506.20M1304.90,2494.40V2506.20M1306.60,2494.40V2506.20M1308.30,2494.40V2506.20M1312.50,2494.40V2506.20M1317.60,2494.40V2506.20M1322.70,2494.40V2506.20M1326.90,2494.40V2506.20M1328.60,2494.40V2506.20M1330.00,2494.40V2506.20M1332.00,2494.40V2506.20M1333.70,2494.40V2506.20M1336.20,2494.40V2506.20M1343.80,2494.40V2506.20M1352.30,2494.40V2506.20M1358.20,2494.40V2506.20M1359.56,2494.40V2506.20M1360.92,2494.40V2506.20M1362.28,2494.40V2506.20M1363.64,2494.40V2506.20M1365.00,2494.40V2506.20M1369.20,2494.40V2506.20M1378.50,2494.40V2506.20M1388.70,2494.40V2506.20M1409.90,2494.40V2506.20M1414.10,2494.40V2506.20M1410.90,2494.40V2506.20M1414.40,2494.40V2506.20M1424.90,2494.40V2506.20M1428.40,2494.40V2506.20M1468.80,2494.40V2506.20M1510.40,2494.40V2506.20M1515.30,2494.40V2506.20M1522.40,2494.40V2506.20M1527.30,2494.40V2506.20M1536.10,2494.40V2506.20M1555.00,2494.40V2506.20M1574.20,2494.40V2506.20M1606.30,2494.40V2506.20M1637.40,2494.40V2506.20M1641.70,2494.40V2506.20M1669.00,2494.40V2506.20M1673.40,2494.40V2506.20" stroke="#231f20" stroke-width="1.4" fill="none"/>
<path d="M1155.60,2507.30 L1155.60,2507.30 L1156.40,2478.50 L1157.60,2426.10 L1158.65,2411.22 L1158.65,2390.29 L1160.03,2391.20 L1160.03,2381.34 L1161.40,2382.25 L1161.40,2365.38 L1162.78,2366.29 L1162.78,2357.85 L1164.15,2358.75 L1164.15,2351.58 L1165.53,2352.49 L1165.53,2348.16 L1166.90,2349.07 L1166.90,2347.54 L1167.80,2348.13 L1167.80,2346.49 L1169.50,2347.61 L1169.50,2347.18 L1170.88,2348.09 L1170.88,2342.05 L1172.25,2342.95 L1172.25,2335.40 L1173.62,2336.30 L1173.62,2328.88 L1175.00,2329.79 L1175.00,2318.68 L1176.38,2319.59 L1176.38,2307.07 L1177.75,2307.97 L1177.75,2304.94 L1179.12,2305.85 L1179.12,2303.97 L1180.50,2304.88 L1180.50,2303.79 L1181.30,2304.32 L1181.30,2302.01 L1183.00,2303.13 L1183.00,2301.91 L1183.90,2302.50 L1183.90,2300.07 L1185.24,2300.96 L1185.24,2298.53 L1186.58,2299.41 L1186.58,2296.98 L1187.92,2297.87 L1187.92,2295.44 L1189.26,2296.32 L1189.26,2295.40 L1190.60,2296.28 L1190.60,2296.28 L1194.90,2299.42 L1194.90,2294.38 L1197.40,2296.03 L1197.40,2291.90 L1198.78,2292.81 L1198.78,2288.71 L1200.15,2289.62 L1200.15,2286.14 L1201.53,2287.05 L1201.53,2284.17 L1202.90,2285.07 L1202.90,2282.18 L1204.28,2283.09 L1204.28,2280.21 L1205.65,2281.11 L1205.65,2278.76 L1207.03,2279.67 L1207.03,2279.04 L1208.40,2279.94 L1208.40,2279.16 L1210.10,2280.28 L1210.10,2277.93 L1215.20,2281.30 L1215.20,2278.34 L1216.72,2279.34 L1216.72,2276.38 L1218.24,2277.38 L1218.24,2274.42 L1219.76,2275.43 L1219.76,2272.76 L1221.28,2273.77 L1221.28,2273.32 L1222.80,2274.32 L1222.80,2273.10 L1227.00,2275.87 L1227.00,2273.16 L1229.60,2274.88 L1229.60,2273.73 L1230.40,2274.26 L1230.40,2272.13 L1231.88,2273.11 L1231.88,2271.00 L1233.35,2271.97 L1233.35,2269.84 L1234.83,2270.82 L1234.83,2269.44 L1236.30,2270.41 L1236.30,2269.93 L1237.20,2270.53 L1237.20,2269.21 L1239.70,2270.86 L1239.70,2269.96 L1241.40,2271.08 L1241.40,2270.39 L1250.70,2276.53 L1250.70,2275.48 L1252.40,2276.60 L1252.40,2272.26 L1255.80,2274.50 L1255.80,2274.11 L1265.10,2280.24 L1265.10,2279.74 L1266.80,2280.86 L1266.80,2279.88 L1268.50,2281.00 L1268.50,2280.01 L1270.20,2281.13 L1270.20,2280.28 L1271.67,2281.25 L1271.67,2280.39 L1273.15,2281.37 L1273.15,2280.51 L1274.62,2281.48 L1274.62,2280.62 L1276.10,2281.60 L1276.10,2280.61 L1277.80,2281.73 L1277.80,2280.87 L1279.28,2281.85 L1279.28,2281.00 L1280.75,2281.97 L1280.75,2281.11 L1282.22,2282.08 L1282.22,2281.22 L1283.70,2282.20 L1283.70,2281.18 L1288.00,2284.02 L1288.00,2283.61 L1289.70,2284.74 L1289.70,2284.14 L1292.20,2285.79 L1292.20,2285.20 L1294.70,2286.85 L1294.70,2286.23 L1297.30,2287.95 L1297.30,2287.55 L1299.00,2288.67 L1299.00,2287.67 L1303.20,2290.44 L1303.20,2290.04 L1304.90,2291.16 L1304.90,2290.83 L1306.60,2291.95 L1306.60,2291.68 L1308.30,2292.80 L1308.30,2292.13 L1312.50,2294.90 L1312.50,2294.08 L1317.60,2297.45 L1317.60,2296.63 L1322.70,2300.00 L1322.70,2299.33 L1326.90,2302.10 L1326.90,2301.83 L1328.60,2302.95 L1328.60,2302.73 L1330.00,2303.65 L1330.00,2303.46 L1332.00,2304.78 L1332.00,2304.76 L1333.70,2305.88 L1333.70,2305.85 L1336.20,2307.50 L1336.20,2307.40 L1343.80,2312.41 L1343.80,2312.30 L1352.30,2317.91 L1352.30,2317.83 L1358.20,2321.73 L1358.20,2321.71 L1359.56,2322.61 L1359.56,2322.59 L1360.92,2323.49 L1360.92,2323.47 L1362.28,2324.37 L1362.28,2324.35 L1363.64,2325.25 L1363.64,2325.23 L1365.00,2326.13 L1365.00,2326.07 L1369.20,2328.84 L1369.20,2328.72 L1378.50,2334.86 L1378.50,2334.72 L1388.70,2341.46 L1388.70,2341.18 L1409.90,2355.17 L1409.90,2355.15 L1410.90,2355.81 L1410.90,2355.77 L1414.10,2357.88 L1414.10,2357.88 L1414.40,2358.08 L1414.40,2357.85 L1424.90,2364.78 L1424.90,2364.66 L1428.40,2366.97 L1428.40,2365.67 L1468.80,2392.34 L1468.80,2390.98 L1510.40,2418.43 L1510.40,2418.03 L1515.30,2421.26 L1515.30,2420.68 L1522.40,2425.37 L1522.40,2424.97 L1527.30,2428.20 L1527.30,2427.37 L1536.10,2433.18 L1536.10,2431.41 L1555.00,2443.89 L1555.00,2442.18 L1574.20,2454.85 L1574.20,2452.36 L1606.30,2473.54 L1606.30,2471.22 L1637.40,2491.75 L1637.40,2486.71 L1641.70,2489.55 L1641.70,2489.22 L1669.00,2507.23 L1669.00,2502.92 L1673.40,2505.82 L1674.50,2506.40 L1685.50,2508.20" stroke="#12994a" stroke-width="3.2" fill="none" stroke-linejoin="round"/>
<text transform="translate(1161.50 2547.60)" font-size="25.5" fill="#231f20"><tspan x="-2.04">NCI-H23-R</tspan></text>
<text transform="translate(1558.72 2547.60)" font-size="25.5" fill="#231f20"><tspan x="-2.04">NCI-H23-P</tspan></text>
<text transform="translate(1382.60 2300.90) scale(0.9192 1)" font-size="25.5" fill="#231f20"><tspan x="-2.04">NES = 2.51; FDR = 3 × 10</tspan><tspan x="292.37" dy="-10.71" font-size="17.85">−10</tspan></text>
<rect x="1701.60" y="2350.60" width="32.40" height="161.80" fill="url(#cbar2)"/>
<line x1="1727.40" y1="2375.10" x2="1734.00" y2="2375.10" stroke="#3a3a3a" stroke-width="1.5"/>
<text transform="translate(1744.80 2381.20)" font-size="22.5" fill="#231f20"><tspan x="-0.90">5</tspan></text>
<line x1="1727.40" y1="2421.20" x2="1734.00" y2="2421.20" stroke="#3a3a3a" stroke-width="1.5"/>
<text transform="translate(1744.80 2427.30)" font-size="22.5" fill="#231f20"><tspan x="-0.79">0</tspan></text>
<line x1="1727.40" y1="2466.80" x2="1734.00" y2="2466.80" stroke="#3a3a3a" stroke-width="1.5"/>
<text transform="translate(1744.80 2472.90)" font-size="22.5" fill="#231f20"><tspan x="-1.01">−5</tspan></text>
<text transform="rotate(90 1788.60 2431.50) translate(1705.10 2431.50) scale(1.0864 1)" font-size="27.5" fill="#231f20"><tspan x="-1.93">[fold change]</tspan></text>
<text transform="rotate(90 1821.00 2429.50) translate(1798.64 2429.50)" font-size="27.5" fill="#231f20"><tspan x="-1.79">log</tspan><tspan x="34.91" dy="8.25" font-size="19.25">2</tspan></text>
</svg></body></html>
